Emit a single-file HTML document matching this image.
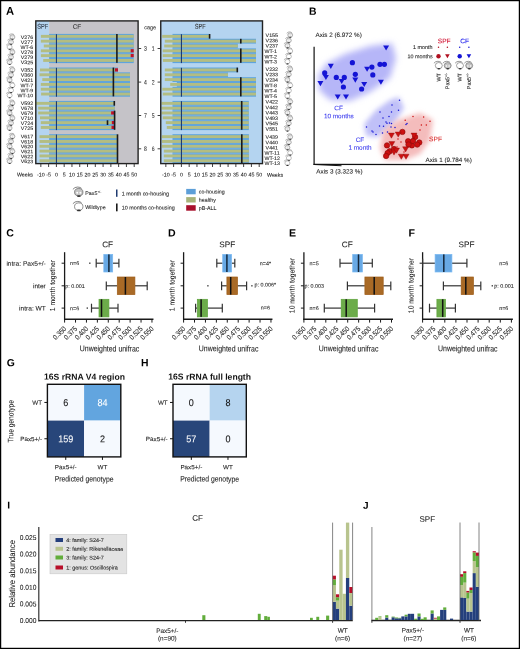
<!DOCTYPE html>
<html><head><meta charset="utf-8"><style>
html,body{margin:0;padding:0;background:#fff;}
svg{display:block;will-change:transform;}
text{font-family:"Liberation Sans", sans-serif;text-rendering:geometricPrecision;}
</style></head><body>
<svg width="520" height="649" viewBox="0 0 520 649" font-family='"Liberation Sans", sans-serif'>
<rect x="0" y="0" width="520" height="649" fill="#fff"/>
<text transform="translate(6.00,14.81) rotate(0.1)" font-size="11.2" text-anchor="start" fill="#000" font-weight="bold" >A</text>
<rect x="35.80" y="20.90" width="13.30" height="142.70" fill="#b4d4f0" />
<rect x="49.10" y="20.90" width="89.00" height="142.70" fill="#c5c3c8" />
<rect x="49.10" y="33.90" width="84.60" height="4.86" fill="#5ea4de" />
<rect x="49.10" y="38.76" width="84.60" height="4.82" fill="#5ea4de" />
<rect x="49.10" y="43.58" width="84.60" height="4.82" fill="#5ea4de" />
<rect x="49.10" y="48.40" width="84.60" height="4.82" fill="#5ea4de" />
<rect x="49.10" y="53.22" width="84.60" height="4.82" fill="#5ea4de" />
<rect x="49.10" y="58.04" width="84.60" height="5.06" fill="#5ea4de" />
<rect x="40.90" y="34.90" width="92.80" height="2.90" fill="#b3bd82" />
<rect x="40.90" y="39.72" width="92.80" height="2.90" fill="#b3bd82" />
<rect x="43.80" y="44.54" width="89.90" height="2.90" fill="#b3bd82" />
<rect x="40.90" y="49.36" width="92.80" height="2.90" fill="#b3bd82" />
<rect x="40.90" y="54.18" width="92.80" height="2.90" fill="#b3bd82" />
<rect x="43.20" y="59.00" width="90.50" height="2.90" fill="#b3bd82" />
<rect x="55.90" y="34.20" width="1.10" height="28.90" fill="#1f3b70" />
<rect x="130.70" y="49.16" width="3.00" height="3.20" fill="#c0102c" />
<rect x="130.70" y="53.98" width="3.00" height="3.20" fill="#c0102c" />
<rect x="116.10" y="34.00" width="1.60" height="28.80" fill="#1a1a1a" />
<rect x="49.10" y="67.50" width="68.90" height="4.86" fill="#5ea4de" />
<rect x="49.10" y="72.36" width="80.90" height="4.82" fill="#5ea4de" />
<rect x="49.10" y="77.18" width="80.90" height="4.82" fill="#5ea4de" />
<rect x="49.10" y="82.00" width="80.90" height="4.82" fill="#5ea4de" />
<rect x="49.10" y="86.82" width="80.90" height="4.82" fill="#5ea4de" />
<rect x="49.10" y="91.64" width="80.90" height="5.06" fill="#5ea4de" />
<rect x="40.00" y="68.50" width="78.00" height="2.90" fill="#b3bd82" />
<rect x="39.50" y="73.32" width="90.50" height="2.90" fill="#b3bd82" />
<rect x="42.30" y="78.14" width="87.70" height="2.90" fill="#b3bd82" />
<rect x="40.80" y="82.96" width="89.20" height="2.90" fill="#b3bd82" />
<rect x="40.80" y="87.78" width="89.20" height="2.90" fill="#b3bd82" />
<rect x="41.10" y="92.60" width="88.90" height="2.90" fill="#b3bd82" />
<rect x="55.90" y="67.80" width="1.10" height="28.90" fill="#1f3b70" />
<rect x="115.00" y="68.30" width="3.00" height="3.20" fill="#c0102c" />
<rect x="112.60" y="67.60" width="1.60" height="28.80" fill="#1a1a1a" />
<rect x="49.10" y="100.90" width="65.70" height="4.86" fill="#5ea4de" />
<rect x="49.10" y="105.76" width="65.70" height="4.82" fill="#5ea4de" />
<rect x="49.10" y="110.58" width="65.70" height="4.82" fill="#5ea4de" />
<rect x="49.10" y="115.40" width="65.70" height="4.82" fill="#5ea4de" />
<rect x="49.10" y="120.22" width="65.70" height="4.82" fill="#5ea4de" />
<rect x="49.10" y="125.04" width="65.70" height="5.06" fill="#5ea4de" />
<rect x="36.20" y="101.90" width="78.60" height="2.90" fill="#b3bd82" />
<rect x="38.20" y="106.72" width="76.60" height="2.90" fill="#b3bd82" />
<rect x="38.20" y="111.54" width="76.60" height="2.90" fill="#b3bd82" />
<rect x="40.00" y="116.36" width="74.80" height="2.90" fill="#b3bd82" />
<rect x="40.80" y="121.18" width="74.00" height="2.90" fill="#b3bd82" />
<rect x="40.80" y="126.00" width="74.00" height="2.90" fill="#b3bd82" />
<rect x="55.90" y="101.20" width="1.10" height="28.90" fill="#1f3b70" />
<rect x="113.50" y="101.00" width="1.60" height="4.70" fill="#1a1a1a" />
<rect x="111.10" y="111.34" width="3.00" height="3.20" fill="#c0102c" />
<rect x="111.80" y="120.98" width="3.00" height="3.20" fill="#c0102c" />
<rect x="106.70" y="120.28" width="1.60" height="4.70" fill="#1a1a1a" />
<rect x="111.50" y="125.80" width="3.00" height="3.20" fill="#c0102c" />
<rect x="113.80" y="110.64" width="1.60" height="19.16" fill="#1a1a1a" />
<rect x="49.10" y="134.20" width="67.90" height="4.86" fill="#5ea4de" />
<rect x="49.10" y="139.06" width="67.90" height="4.82" fill="#5ea4de" />
<rect x="49.10" y="143.88" width="67.90" height="4.82" fill="#5ea4de" />
<rect x="49.10" y="148.70" width="67.90" height="4.82" fill="#5ea4de" />
<rect x="49.10" y="153.52" width="67.90" height="4.82" fill="#5ea4de" />
<rect x="49.10" y="158.34" width="67.90" height="5.06" fill="#5ea4de" />
<rect x="39.50" y="135.20" width="77.50" height="2.90" fill="#b3bd82" />
<rect x="39.50" y="140.02" width="77.50" height="2.90" fill="#b3bd82" />
<rect x="39.50" y="144.84" width="77.50" height="2.90" fill="#b3bd82" />
<rect x="39.50" y="149.66" width="77.50" height="2.90" fill="#b3bd82" />
<rect x="39.50" y="154.48" width="77.50" height="2.90" fill="#b3bd82" />
<rect x="39.50" y="159.30" width="77.50" height="2.90" fill="#b3bd82" />
<rect x="55.90" y="134.50" width="1.10" height="28.90" fill="#1f3b70" />
<rect x="116.70" y="134.30" width="1.60" height="28.80" fill="#1a1a1a" />
<rect x="35.80" y="20.90" width="102.30" height="142.70" fill="none" stroke="#222" stroke-width="1.4"/>
<rect x="160.75" y="20.90" width="101.75" height="142.70" fill="#b4d4f0" />
<rect x="172.50" y="33.90" width="36.60" height="4.86" fill="#5ea4de" />
<rect x="172.50" y="38.76" width="83.50" height="4.82" fill="#5ea4de" />
<rect x="172.50" y="43.58" width="65.30" height="4.82" fill="#5ea4de" />
<rect x="172.50" y="48.40" width="83.50" height="4.82" fill="#5ea4de" />
<rect x="172.50" y="53.22" width="83.50" height="4.82" fill="#5ea4de" />
<rect x="172.50" y="58.04" width="83.50" height="5.06" fill="#5ea4de" />
<rect x="162.20" y="34.90" width="46.90" height="2.90" fill="#b3bd82" />
<rect x="164.80" y="39.72" width="91.20" height="2.90" fill="#b3bd82" />
<rect x="164.20" y="44.54" width="73.60" height="2.90" fill="#b3bd82" />
<rect x="162.70" y="49.36" width="93.30" height="2.90" fill="#b3bd82" />
<rect x="162.70" y="54.18" width="93.30" height="2.90" fill="#b3bd82" />
<rect x="162.90" y="59.00" width="93.10" height="2.90" fill="#b3bd82" />
<rect x="180.90" y="34.20" width="1.10" height="28.90" fill="#1f3b70" />
<rect x="208.80" y="34.00" width="1.60" height="4.70" fill="#1a1a1a" />
<rect x="240.00" y="38.82" width="1.60" height="4.70" fill="#1a1a1a" />
<rect x="240.00" y="48.46" width="1.60" height="14.34" fill="#1a1a1a" />
<rect x="172.50" y="67.50" width="65.30" height="4.86" fill="#5ea4de" />
<rect x="172.50" y="72.36" width="55.50" height="4.82" fill="#5ea4de" />
<rect x="172.50" y="77.18" width="83.50" height="4.82" fill="#5ea4de" />
<rect x="176.80" y="82.00" width="79.20" height="4.82" fill="#5ea4de" />
<rect x="172.50" y="86.82" width="83.50" height="4.82" fill="#5ea4de" />
<rect x="172.50" y="91.64" width="83.50" height="5.06" fill="#5ea4de" />
<rect x="164.80" y="68.50" width="73.00" height="2.90" fill="#b3bd82" />
<rect x="164.80" y="73.32" width="63.20" height="2.90" fill="#b3bd82" />
<rect x="164.80" y="78.14" width="91.20" height="2.90" fill="#b3bd82" />
<rect x="170.20" y="82.96" width="85.80" height="2.90" fill="#b3bd82" />
<rect x="162.30" y="87.78" width="93.70" height="2.90" fill="#b3bd82" />
<rect x="162.80" y="92.60" width="93.20" height="2.90" fill="#b3bd82" />
<rect x="180.90" y="67.80" width="1.10" height="28.90" fill="#1f3b70" />
<rect x="236.50" y="67.60" width="1.60" height="4.70" fill="#1a1a1a" />
<rect x="240.00" y="77.24" width="1.60" height="19.16" fill="#1a1a1a" />
<rect x="172.50" y="100.90" width="76.30" height="4.86" fill="#5ea4de" />
<rect x="172.50" y="105.76" width="76.30" height="4.82" fill="#5ea4de" />
<rect x="172.50" y="110.58" width="76.30" height="4.82" fill="#5ea4de" />
<rect x="172.50" y="115.40" width="76.30" height="4.82" fill="#5ea4de" />
<rect x="172.50" y="120.22" width="76.30" height="4.82" fill="#5ea4de" />
<rect x="172.50" y="125.04" width="76.30" height="5.06" fill="#5ea4de" />
<rect x="161.50" y="101.90" width="87.30" height="2.90" fill="#b3bd82" />
<rect x="161.50" y="106.72" width="87.30" height="2.90" fill="#b3bd82" />
<rect x="161.50" y="111.54" width="87.30" height="2.90" fill="#b3bd82" />
<rect x="162.70" y="116.36" width="86.10" height="2.90" fill="#b3bd82" />
<rect x="165.80" y="121.18" width="83.00" height="2.90" fill="#b3bd82" />
<rect x="166.80" y="126.00" width="82.00" height="2.90" fill="#b3bd82" />
<rect x="180.90" y="101.20" width="1.10" height="28.90" fill="#1f3b70" />
<rect x="240.90" y="101.00" width="1.60" height="28.80" fill="#1a1a1a" />
<rect x="172.50" y="134.20" width="76.40" height="4.86" fill="#5ea4de" />
<rect x="172.50" y="139.06" width="76.40" height="4.82" fill="#5ea4de" />
<rect x="172.50" y="143.88" width="76.40" height="4.82" fill="#5ea4de" />
<rect x="172.50" y="148.70" width="76.40" height="4.82" fill="#5ea4de" />
<rect x="172.50" y="153.52" width="76.40" height="4.82" fill="#5ea4de" />
<rect x="172.50" y="158.34" width="76.40" height="5.06" fill="#5ea4de" />
<rect x="161.90" y="135.20" width="87.00" height="2.90" fill="#b3bd82" />
<rect x="161.90" y="140.02" width="87.00" height="2.90" fill="#b3bd82" />
<rect x="161.90" y="144.84" width="87.00" height="2.90" fill="#b3bd82" />
<rect x="163.80" y="149.66" width="85.10" height="2.90" fill="#b3bd82" />
<rect x="163.80" y="154.48" width="85.10" height="2.90" fill="#b3bd82" />
<rect x="163.80" y="159.30" width="85.10" height="2.90" fill="#b3bd82" />
<rect x="180.90" y="134.50" width="1.10" height="28.90" fill="#1f3b70" />
<rect x="241.00" y="134.30" width="1.60" height="28.80" fill="#1a1a1a" />
<rect x="160.75" y="20.90" width="101.75" height="142.70" fill="none" stroke="#222" stroke-width="1.4"/>
<text transform="translate(42.80,28.81) rotate(0.1) scale(0.8,1)" font-size="7.0" text-anchor="middle" fill="#2b3442" font-weight="normal" stroke="#2b3442" stroke-width="0.08" >SPF</text>
<text transform="translate(77.00,28.66) rotate(0.1)" font-size="6.3" text-anchor="middle" fill="#333" font-weight="normal" stroke="#333" stroke-width="0.08" >CF</text>
<text transform="translate(200.30,28.81) rotate(0.1) scale(0.8,1)" font-size="7.0" text-anchor="middle" fill="#333" font-weight="normal" stroke="#333" stroke-width="0.08" >SPF</text>
<text transform="translate(33.10,38.94) rotate(0.1) scale(1.06,1)" font-size="5.0" text-anchor="end" fill="#222" font-weight="normal" stroke="#222" stroke-width="0.08" >V276</text>
<text transform="translate(265.60,36.94) rotate(0.1) scale(1.06,1)" font-size="5.0" text-anchor="start" fill="#222" font-weight="normal" stroke="#222" stroke-width="0.08" >V155</text>
<g transform="translate(12.20,37.00) scale(0.72)"><path d="M-4.6 -2.4 Q-3.0 -4.4 -0.6 -4.3 Q1.6 -4.2 2.6 -3.2" fill="none" stroke="#555" stroke-width="0.6"/><ellipse cx="0.3" cy="0.0" rx="3.5" ry="3.1" fill="#e2e2e2" stroke="#666" stroke-width="0.6"/><circle cx="-1.0" cy="0.4" r="0.8" fill="#fff"/><circle cx="1.7" cy="0.4" r="0.8" fill="#fff"/><ellipse cx="0.4" cy="3.2" rx="1.6" ry="0.75" fill="#333"/></g>
<g transform="translate(290.00,35.00) scale(0.72)"><path d="M-4.6 -2.4 Q-3.0 -4.4 -0.6 -4.3 Q1.6 -4.2 2.6 -3.2" fill="none" stroke="#555" stroke-width="0.6"/><ellipse cx="0.3" cy="0.0" rx="3.5" ry="3.1" fill="#e2e2e2" stroke="#666" stroke-width="0.6"/><circle cx="-1.0" cy="0.4" r="0.8" fill="#fff"/><circle cx="1.7" cy="0.4" r="0.8" fill="#fff"/><ellipse cx="0.4" cy="3.2" rx="1.6" ry="0.75" fill="#333"/></g>
<text transform="translate(33.10,43.94) rotate(0.1) scale(1.06,1)" font-size="5.0" text-anchor="end" fill="#222" font-weight="normal" stroke="#222" stroke-width="0.08" >V277</text>
<text transform="translate(265.60,42.34) rotate(0.1) scale(1.06,1)" font-size="5.0" text-anchor="start" fill="#222" font-weight="normal" stroke="#222" stroke-width="0.08" >V236</text>
<g transform="translate(10.80,42.00) scale(0.72)"><path d="M-4.6 -2.4 Q-3.0 -4.4 -0.6 -4.3 Q1.6 -4.2 2.6 -3.2" fill="none" stroke="#555" stroke-width="0.6"/><ellipse cx="0.3" cy="0.0" rx="3.5" ry="3.1" fill="#e2e2e2" stroke="#666" stroke-width="0.6"/><circle cx="-1.0" cy="0.4" r="0.8" fill="#fff"/><circle cx="1.7" cy="0.4" r="0.8" fill="#fff"/><ellipse cx="0.4" cy="3.2" rx="1.6" ry="0.75" fill="#333"/></g>
<g transform="translate(288.60,40.40) scale(0.72)"><path d="M-4.6 -2.4 Q-3.0 -4.4 -0.6 -4.3 Q1.6 -4.2 2.6 -3.2" fill="none" stroke="#555" stroke-width="0.6"/><ellipse cx="0.3" cy="0.0" rx="3.5" ry="3.1" fill="#e2e2e2" stroke="#666" stroke-width="0.6"/><circle cx="-1.0" cy="0.4" r="0.8" fill="#fff"/><circle cx="1.7" cy="0.4" r="0.8" fill="#fff"/><ellipse cx="0.4" cy="3.2" rx="1.6" ry="0.75" fill="#333"/></g>
<text transform="translate(33.10,48.94) rotate(0.1) scale(1.06,1)" font-size="5.0" text-anchor="end" fill="#222" font-weight="normal" stroke="#222" stroke-width="0.08" >WT-6</text>
<text transform="translate(265.60,47.54) rotate(0.1) scale(1.06,1)" font-size="5.0" text-anchor="start" fill="#222" font-weight="normal" stroke="#222" stroke-width="0.08" >V237</text>
<g transform="translate(9.40,47.00) scale(0.72)"><path d="M-4.6 -2.4 Q-3.0 -4.4 -0.6 -4.3 Q1.6 -4.2 2.6 -3.2" fill="none" stroke="#555" stroke-width="0.6"/><ellipse cx="0.3" cy="0.0" rx="3.5" ry="3.1" fill="#ffffff" stroke="#666" stroke-width="0.6"/><circle cx="-1.0" cy="0.4" r="0.8" fill="#fff"/><circle cx="1.7" cy="0.4" r="0.8" fill="#fff"/><ellipse cx="0.4" cy="3.2" rx="1.6" ry="0.75" fill="#333"/></g>
<g transform="translate(287.20,45.60) scale(0.72)"><path d="M-4.6 -2.4 Q-3.0 -4.4 -0.6 -4.3 Q1.6 -4.2 2.6 -3.2" fill="none" stroke="#555" stroke-width="0.6"/><ellipse cx="0.3" cy="0.0" rx="3.5" ry="3.1" fill="#e2e2e2" stroke="#666" stroke-width="0.6"/><circle cx="-1.0" cy="0.4" r="0.8" fill="#fff"/><circle cx="1.7" cy="0.4" r="0.8" fill="#fff"/><ellipse cx="0.4" cy="3.2" rx="1.6" ry="0.75" fill="#333"/></g>
<text transform="translate(33.10,53.94) rotate(0.1) scale(1.06,1)" font-size="5.0" text-anchor="end" fill="#222" font-weight="normal" stroke="#222" stroke-width="0.08" >V278</text>
<text transform="translate(264.40,52.94) rotate(0.1) scale(1.06,1)" font-size="5.0" text-anchor="start" fill="#222" font-weight="normal" stroke="#222" stroke-width="0.08" >WT-1</text>
<g transform="translate(12.20,52.00) scale(0.72)"><path d="M-4.6 -2.4 Q-3.0 -4.4 -0.6 -4.3 Q1.6 -4.2 2.6 -3.2" fill="none" stroke="#555" stroke-width="0.6"/><ellipse cx="0.3" cy="0.0" rx="3.5" ry="3.1" fill="#e2e2e2" stroke="#666" stroke-width="0.6"/><circle cx="-1.0" cy="0.4" r="0.8" fill="#fff"/><circle cx="1.7" cy="0.4" r="0.8" fill="#fff"/><ellipse cx="0.4" cy="3.2" rx="1.6" ry="0.75" fill="#333"/></g>
<g transform="translate(290.00,51.00) scale(0.72)"><path d="M-4.6 -2.4 Q-3.0 -4.4 -0.6 -4.3 Q1.6 -4.2 2.6 -3.2" fill="none" stroke="#555" stroke-width="0.6"/><ellipse cx="0.3" cy="0.0" rx="3.5" ry="3.1" fill="#ffffff" stroke="#666" stroke-width="0.6"/><circle cx="-1.0" cy="0.4" r="0.8" fill="#fff"/><circle cx="1.7" cy="0.4" r="0.8" fill="#fff"/><ellipse cx="0.4" cy="3.2" rx="1.6" ry="0.75" fill="#333"/></g>
<text transform="translate(33.10,58.94) rotate(0.1) scale(1.06,1)" font-size="5.0" text-anchor="end" fill="#222" font-weight="normal" stroke="#222" stroke-width="0.08" >V279</text>
<text transform="translate(264.40,58.44) rotate(0.1) scale(1.06,1)" font-size="5.0" text-anchor="start" fill="#222" font-weight="normal" stroke="#222" stroke-width="0.08" >WT-2</text>
<g transform="translate(10.80,57.00) scale(0.72)"><path d="M-4.6 -2.4 Q-3.0 -4.4 -0.6 -4.3 Q1.6 -4.2 2.6 -3.2" fill="none" stroke="#555" stroke-width="0.6"/><ellipse cx="0.3" cy="0.0" rx="3.5" ry="3.1" fill="#e2e2e2" stroke="#666" stroke-width="0.6"/><circle cx="-1.0" cy="0.4" r="0.8" fill="#fff"/><circle cx="1.7" cy="0.4" r="0.8" fill="#fff"/><ellipse cx="0.4" cy="3.2" rx="1.6" ry="0.75" fill="#333"/></g>
<g transform="translate(288.60,56.50) scale(0.72)"><path d="M-4.6 -2.4 Q-3.0 -4.4 -0.6 -4.3 Q1.6 -4.2 2.6 -3.2" fill="none" stroke="#555" stroke-width="0.6"/><ellipse cx="0.3" cy="0.0" rx="3.5" ry="3.1" fill="#ffffff" stroke="#666" stroke-width="0.6"/><circle cx="-1.0" cy="0.4" r="0.8" fill="#fff"/><circle cx="1.7" cy="0.4" r="0.8" fill="#fff"/><ellipse cx="0.4" cy="3.2" rx="1.6" ry="0.75" fill="#333"/></g>
<text transform="translate(33.10,64.14) rotate(0.1) scale(1.06,1)" font-size="5.0" text-anchor="end" fill="#222" font-weight="normal" stroke="#222" stroke-width="0.08" >V325</text>
<text transform="translate(264.40,63.54) rotate(0.1) scale(1.06,1)" font-size="5.0" text-anchor="start" fill="#222" font-weight="normal" stroke="#222" stroke-width="0.08" >WT-3</text>
<g transform="translate(9.40,62.20) scale(0.72)"><path d="M-4.6 -2.4 Q-3.0 -4.4 -0.6 -4.3 Q1.6 -4.2 2.6 -3.2" fill="none" stroke="#555" stroke-width="0.6"/><ellipse cx="0.3" cy="0.0" rx="3.5" ry="3.1" fill="#e2e2e2" stroke="#666" stroke-width="0.6"/><circle cx="-1.0" cy="0.4" r="0.8" fill="#fff"/><circle cx="1.7" cy="0.4" r="0.8" fill="#fff"/><ellipse cx="0.4" cy="3.2" rx="1.6" ry="0.75" fill="#333"/></g>
<g transform="translate(287.20,61.60) scale(0.72)"><path d="M-4.6 -2.4 Q-3.0 -4.4 -0.6 -4.3 Q1.6 -4.2 2.6 -3.2" fill="none" stroke="#555" stroke-width="0.6"/><ellipse cx="0.3" cy="0.0" rx="3.5" ry="3.1" fill="#ffffff" stroke="#666" stroke-width="0.6"/><circle cx="-1.0" cy="0.4" r="0.8" fill="#fff"/><circle cx="1.7" cy="0.4" r="0.8" fill="#fff"/><ellipse cx="0.4" cy="3.2" rx="1.6" ry="0.75" fill="#333"/></g>
<text transform="translate(33.10,71.74) rotate(0.1) scale(1.06,1)" font-size="5.0" text-anchor="end" fill="#222" font-weight="normal" stroke="#222" stroke-width="0.08" >V352</text>
<text transform="translate(265.60,70.94) rotate(0.1) scale(1.06,1)" font-size="5.0" text-anchor="start" fill="#222" font-weight="normal" stroke="#222" stroke-width="0.08" >V232</text>
<g transform="translate(12.20,69.80) scale(0.72)"><path d="M-4.6 -2.4 Q-3.0 -4.4 -0.6 -4.3 Q1.6 -4.2 2.6 -3.2" fill="none" stroke="#555" stroke-width="0.6"/><ellipse cx="0.3" cy="0.0" rx="3.5" ry="3.1" fill="#e2e2e2" stroke="#666" stroke-width="0.6"/><circle cx="-1.0" cy="0.4" r="0.8" fill="#fff"/><circle cx="1.7" cy="0.4" r="0.8" fill="#fff"/><ellipse cx="0.4" cy="3.2" rx="1.6" ry="0.75" fill="#333"/></g>
<g transform="translate(290.00,69.00) scale(0.72)"><path d="M-4.6 -2.4 Q-3.0 -4.4 -0.6 -4.3 Q1.6 -4.2 2.6 -3.2" fill="none" stroke="#555" stroke-width="0.6"/><ellipse cx="0.3" cy="0.0" rx="3.5" ry="3.1" fill="#e2e2e2" stroke="#666" stroke-width="0.6"/><circle cx="-1.0" cy="0.4" r="0.8" fill="#fff"/><circle cx="1.7" cy="0.4" r="0.8" fill="#fff"/><ellipse cx="0.4" cy="3.2" rx="1.6" ry="0.75" fill="#333"/></g>
<text transform="translate(33.10,76.84) rotate(0.1) scale(1.06,1)" font-size="5.0" text-anchor="end" fill="#222" font-weight="normal" stroke="#222" stroke-width="0.08" >V360</text>
<text transform="translate(265.60,76.34) rotate(0.1) scale(1.06,1)" font-size="5.0" text-anchor="start" fill="#222" font-weight="normal" stroke="#222" stroke-width="0.08" >V233</text>
<g transform="translate(10.80,74.90) scale(0.72)"><path d="M-4.6 -2.4 Q-3.0 -4.4 -0.6 -4.3 Q1.6 -4.2 2.6 -3.2" fill="none" stroke="#555" stroke-width="0.6"/><ellipse cx="0.3" cy="0.0" rx="3.5" ry="3.1" fill="#e2e2e2" stroke="#666" stroke-width="0.6"/><circle cx="-1.0" cy="0.4" r="0.8" fill="#fff"/><circle cx="1.7" cy="0.4" r="0.8" fill="#fff"/><ellipse cx="0.4" cy="3.2" rx="1.6" ry="0.75" fill="#333"/></g>
<g transform="translate(288.60,74.40) scale(0.72)"><path d="M-4.6 -2.4 Q-3.0 -4.4 -0.6 -4.3 Q1.6 -4.2 2.6 -3.2" fill="none" stroke="#555" stroke-width="0.6"/><ellipse cx="0.3" cy="0.0" rx="3.5" ry="3.1" fill="#e2e2e2" stroke="#666" stroke-width="0.6"/><circle cx="-1.0" cy="0.4" r="0.8" fill="#fff"/><circle cx="1.7" cy="0.4" r="0.8" fill="#fff"/><ellipse cx="0.4" cy="3.2" rx="1.6" ry="0.75" fill="#333"/></g>
<text transform="translate(33.10,81.94) rotate(0.1) scale(1.06,1)" font-size="5.0" text-anchor="end" fill="#222" font-weight="normal" stroke="#222" stroke-width="0.08" >V421</text>
<text transform="translate(265.60,81.74) rotate(0.1) scale(1.06,1)" font-size="5.0" text-anchor="start" fill="#222" font-weight="normal" stroke="#222" stroke-width="0.08" >V234</text>
<g transform="translate(9.40,80.00) scale(0.72)"><path d="M-4.6 -2.4 Q-3.0 -4.4 -0.6 -4.3 Q1.6 -4.2 2.6 -3.2" fill="none" stroke="#555" stroke-width="0.6"/><ellipse cx="0.3" cy="0.0" rx="3.5" ry="3.1" fill="#e2e2e2" stroke="#666" stroke-width="0.6"/><circle cx="-1.0" cy="0.4" r="0.8" fill="#fff"/><circle cx="1.7" cy="0.4" r="0.8" fill="#fff"/><ellipse cx="0.4" cy="3.2" rx="1.6" ry="0.75" fill="#333"/></g>
<g transform="translate(287.20,79.80) scale(0.72)"><path d="M-4.6 -2.4 Q-3.0 -4.4 -0.6 -4.3 Q1.6 -4.2 2.6 -3.2" fill="none" stroke="#555" stroke-width="0.6"/><ellipse cx="0.3" cy="0.0" rx="3.5" ry="3.1" fill="#e2e2e2" stroke="#666" stroke-width="0.6"/><circle cx="-1.0" cy="0.4" r="0.8" fill="#fff"/><circle cx="1.7" cy="0.4" r="0.8" fill="#fff"/><ellipse cx="0.4" cy="3.2" rx="1.6" ry="0.75" fill="#333"/></g>
<text transform="translate(33.10,87.24) rotate(0.1) scale(1.06,1)" font-size="5.0" text-anchor="end" fill="#222" font-weight="normal" stroke="#222" stroke-width="0.08" >WT-7</text>
<text transform="translate(264.40,87.24) rotate(0.1) scale(1.06,1)" font-size="5.0" text-anchor="start" fill="#222" font-weight="normal" stroke="#222" stroke-width="0.08" >WT-8</text>
<g transform="translate(12.20,85.30) scale(0.72)"><path d="M-4.6 -2.4 Q-3.0 -4.4 -0.6 -4.3 Q1.6 -4.2 2.6 -3.2" fill="none" stroke="#555" stroke-width="0.6"/><ellipse cx="0.3" cy="0.0" rx="3.5" ry="3.1" fill="#ffffff" stroke="#666" stroke-width="0.6"/><circle cx="-1.0" cy="0.4" r="0.8" fill="#fff"/><circle cx="1.7" cy="0.4" r="0.8" fill="#fff"/><ellipse cx="0.4" cy="3.2" rx="1.6" ry="0.75" fill="#333"/></g>
<g transform="translate(290.00,85.30) scale(0.72)"><path d="M-4.6 -2.4 Q-3.0 -4.4 -0.6 -4.3 Q1.6 -4.2 2.6 -3.2" fill="none" stroke="#555" stroke-width="0.6"/><ellipse cx="0.3" cy="0.0" rx="3.5" ry="3.1" fill="#ffffff" stroke="#666" stroke-width="0.6"/><circle cx="-1.0" cy="0.4" r="0.8" fill="#fff"/><circle cx="1.7" cy="0.4" r="0.8" fill="#fff"/><ellipse cx="0.4" cy="3.2" rx="1.6" ry="0.75" fill="#333"/></g>
<text transform="translate(33.10,92.24) rotate(0.1) scale(1.06,1)" font-size="5.0" text-anchor="end" fill="#222" font-weight="normal" stroke="#222" stroke-width="0.08" >WT-9</text>
<text transform="translate(264.40,92.54) rotate(0.1) scale(1.06,1)" font-size="5.0" text-anchor="start" fill="#222" font-weight="normal" stroke="#222" stroke-width="0.08" >WT-4</text>
<g transform="translate(10.80,90.30) scale(0.72)"><path d="M-4.6 -2.4 Q-3.0 -4.4 -0.6 -4.3 Q1.6 -4.2 2.6 -3.2" fill="none" stroke="#555" stroke-width="0.6"/><ellipse cx="0.3" cy="0.0" rx="3.5" ry="3.1" fill="#ffffff" stroke="#666" stroke-width="0.6"/><circle cx="-1.0" cy="0.4" r="0.8" fill="#fff"/><circle cx="1.7" cy="0.4" r="0.8" fill="#fff"/><ellipse cx="0.4" cy="3.2" rx="1.6" ry="0.75" fill="#333"/></g>
<g transform="translate(288.60,90.60) scale(0.72)"><path d="M-4.6 -2.4 Q-3.0 -4.4 -0.6 -4.3 Q1.6 -4.2 2.6 -3.2" fill="none" stroke="#555" stroke-width="0.6"/><ellipse cx="0.3" cy="0.0" rx="3.5" ry="3.1" fill="#ffffff" stroke="#666" stroke-width="0.6"/><circle cx="-1.0" cy="0.4" r="0.8" fill="#fff"/><circle cx="1.7" cy="0.4" r="0.8" fill="#fff"/><ellipse cx="0.4" cy="3.2" rx="1.6" ry="0.75" fill="#333"/></g>
<text transform="translate(33.10,97.34) rotate(0.1) scale(1.06,1)" font-size="5.0" text-anchor="end" fill="#222" font-weight="normal" stroke="#222" stroke-width="0.08" >WT-10</text>
<text transform="translate(264.40,97.94) rotate(0.1) scale(1.06,1)" font-size="5.0" text-anchor="start" fill="#222" font-weight="normal" stroke="#222" stroke-width="0.08" >WT-5</text>
<g transform="translate(9.40,95.40) scale(0.72)"><path d="M-4.6 -2.4 Q-3.0 -4.4 -0.6 -4.3 Q1.6 -4.2 2.6 -3.2" fill="none" stroke="#555" stroke-width="0.6"/><ellipse cx="0.3" cy="0.0" rx="3.5" ry="3.1" fill="#ffffff" stroke="#666" stroke-width="0.6"/><circle cx="-1.0" cy="0.4" r="0.8" fill="#fff"/><circle cx="1.7" cy="0.4" r="0.8" fill="#fff"/><ellipse cx="0.4" cy="3.2" rx="1.6" ry="0.75" fill="#333"/></g>
<g transform="translate(287.20,96.00) scale(0.72)"><path d="M-4.6 -2.4 Q-3.0 -4.4 -0.6 -4.3 Q1.6 -4.2 2.6 -3.2" fill="none" stroke="#555" stroke-width="0.6"/><ellipse cx="0.3" cy="0.0" rx="3.5" ry="3.1" fill="#ffffff" stroke="#666" stroke-width="0.6"/><circle cx="-1.0" cy="0.4" r="0.8" fill="#fff"/><circle cx="1.7" cy="0.4" r="0.8" fill="#fff"/><ellipse cx="0.4" cy="3.2" rx="1.6" ry="0.75" fill="#333"/></g>
<text transform="translate(33.10,105.04) rotate(0.1) scale(1.06,1)" font-size="5.0" text-anchor="end" fill="#222" font-weight="normal" stroke="#222" stroke-width="0.08" >V592</text>
<text transform="translate(265.60,103.54) rotate(0.1) scale(1.06,1)" font-size="5.0" text-anchor="start" fill="#222" font-weight="normal" stroke="#222" stroke-width="0.08" >V422</text>
<g transform="translate(12.20,103.10) scale(0.72)"><path d="M-4.6 -2.4 Q-3.0 -4.4 -0.6 -4.3 Q1.6 -4.2 2.6 -3.2" fill="none" stroke="#555" stroke-width="0.6"/><ellipse cx="0.3" cy="0.0" rx="3.5" ry="3.1" fill="#e2e2e2" stroke="#666" stroke-width="0.6"/><circle cx="-1.0" cy="0.4" r="0.8" fill="#fff"/><circle cx="1.7" cy="0.4" r="0.8" fill="#fff"/><ellipse cx="0.4" cy="3.2" rx="1.6" ry="0.75" fill="#333"/></g>
<g transform="translate(290.00,101.60) scale(0.72)"><path d="M-4.6 -2.4 Q-3.0 -4.4 -0.6 -4.3 Q1.6 -4.2 2.6 -3.2" fill="none" stroke="#555" stroke-width="0.6"/><ellipse cx="0.3" cy="0.0" rx="3.5" ry="3.1" fill="#e2e2e2" stroke="#666" stroke-width="0.6"/><circle cx="-1.0" cy="0.4" r="0.8" fill="#fff"/><circle cx="1.7" cy="0.4" r="0.8" fill="#fff"/><ellipse cx="0.4" cy="3.2" rx="1.6" ry="0.75" fill="#333"/></g>
<text transform="translate(33.10,109.94) rotate(0.1) scale(1.06,1)" font-size="5.0" text-anchor="end" fill="#222" font-weight="normal" stroke="#222" stroke-width="0.08" >V678</text>
<text transform="translate(265.60,109.14) rotate(0.1) scale(1.06,1)" font-size="5.0" text-anchor="start" fill="#222" font-weight="normal" stroke="#222" stroke-width="0.08" >V442</text>
<g transform="translate(10.80,108.00) scale(0.72)"><path d="M-4.6 -2.4 Q-3.0 -4.4 -0.6 -4.3 Q1.6 -4.2 2.6 -3.2" fill="none" stroke="#555" stroke-width="0.6"/><ellipse cx="0.3" cy="0.0" rx="3.5" ry="3.1" fill="#e2e2e2" stroke="#666" stroke-width="0.6"/><circle cx="-1.0" cy="0.4" r="0.8" fill="#fff"/><circle cx="1.7" cy="0.4" r="0.8" fill="#fff"/><ellipse cx="0.4" cy="3.2" rx="1.6" ry="0.75" fill="#333"/></g>
<g transform="translate(288.60,107.20) scale(0.72)"><path d="M-4.6 -2.4 Q-3.0 -4.4 -0.6 -4.3 Q1.6 -4.2 2.6 -3.2" fill="none" stroke="#555" stroke-width="0.6"/><ellipse cx="0.3" cy="0.0" rx="3.5" ry="3.1" fill="#e2e2e2" stroke="#666" stroke-width="0.6"/><circle cx="-1.0" cy="0.4" r="0.8" fill="#fff"/><circle cx="1.7" cy="0.4" r="0.8" fill="#fff"/><ellipse cx="0.4" cy="3.2" rx="1.6" ry="0.75" fill="#333"/></g>
<text transform="translate(33.10,114.94) rotate(0.1) scale(1.06,1)" font-size="5.0" text-anchor="end" fill="#222" font-weight="normal" stroke="#222" stroke-width="0.08" >V679</text>
<text transform="translate(265.60,114.54) rotate(0.1) scale(1.06,1)" font-size="5.0" text-anchor="start" fill="#222" font-weight="normal" stroke="#222" stroke-width="0.08" >V443</text>
<g transform="translate(9.40,113.00) scale(0.72)"><path d="M-4.6 -2.4 Q-3.0 -4.4 -0.6 -4.3 Q1.6 -4.2 2.6 -3.2" fill="none" stroke="#555" stroke-width="0.6"/><ellipse cx="0.3" cy="0.0" rx="3.5" ry="3.1" fill="#e2e2e2" stroke="#666" stroke-width="0.6"/><circle cx="-1.0" cy="0.4" r="0.8" fill="#fff"/><circle cx="1.7" cy="0.4" r="0.8" fill="#fff"/><ellipse cx="0.4" cy="3.2" rx="1.6" ry="0.75" fill="#333"/></g>
<g transform="translate(287.20,112.60) scale(0.72)"><path d="M-4.6 -2.4 Q-3.0 -4.4 -0.6 -4.3 Q1.6 -4.2 2.6 -3.2" fill="none" stroke="#555" stroke-width="0.6"/><ellipse cx="0.3" cy="0.0" rx="3.5" ry="3.1" fill="#e2e2e2" stroke="#666" stroke-width="0.6"/><circle cx="-1.0" cy="0.4" r="0.8" fill="#fff"/><circle cx="1.7" cy="0.4" r="0.8" fill="#fff"/><ellipse cx="0.4" cy="3.2" rx="1.6" ry="0.75" fill="#333"/></g>
<text transform="translate(33.10,119.94) rotate(0.1) scale(1.06,1)" font-size="5.0" text-anchor="end" fill="#222" font-weight="normal" stroke="#222" stroke-width="0.08" >V710</text>
<text transform="translate(265.60,120.04) rotate(0.1) scale(1.06,1)" font-size="5.0" text-anchor="start" fill="#222" font-weight="normal" stroke="#222" stroke-width="0.08" >V493</text>
<g transform="translate(12.20,118.00) scale(0.72)"><path d="M-4.6 -2.4 Q-3.0 -4.4 -0.6 -4.3 Q1.6 -4.2 2.6 -3.2" fill="none" stroke="#555" stroke-width="0.6"/><ellipse cx="0.3" cy="0.0" rx="3.5" ry="3.1" fill="#e2e2e2" stroke="#666" stroke-width="0.6"/><circle cx="-1.0" cy="0.4" r="0.8" fill="#fff"/><circle cx="1.7" cy="0.4" r="0.8" fill="#fff"/><ellipse cx="0.4" cy="3.2" rx="1.6" ry="0.75" fill="#333"/></g>
<g transform="translate(290.00,118.10) scale(0.72)"><path d="M-4.6 -2.4 Q-3.0 -4.4 -0.6 -4.3 Q1.6 -4.2 2.6 -3.2" fill="none" stroke="#555" stroke-width="0.6"/><ellipse cx="0.3" cy="0.0" rx="3.5" ry="3.1" fill="#e2e2e2" stroke="#666" stroke-width="0.6"/><circle cx="-1.0" cy="0.4" r="0.8" fill="#fff"/><circle cx="1.7" cy="0.4" r="0.8" fill="#fff"/><ellipse cx="0.4" cy="3.2" rx="1.6" ry="0.75" fill="#333"/></g>
<text transform="translate(33.10,124.94) rotate(0.1) scale(1.06,1)" font-size="5.0" text-anchor="end" fill="#222" font-weight="normal" stroke="#222" stroke-width="0.08" >V724</text>
<text transform="translate(265.60,125.24) rotate(0.1) scale(1.06,1)" font-size="5.0" text-anchor="start" fill="#222" font-weight="normal" stroke="#222" stroke-width="0.08" >V545</text>
<g transform="translate(10.80,123.00) scale(0.72)"><path d="M-4.6 -2.4 Q-3.0 -4.4 -0.6 -4.3 Q1.6 -4.2 2.6 -3.2" fill="none" stroke="#555" stroke-width="0.6"/><ellipse cx="0.3" cy="0.0" rx="3.5" ry="3.1" fill="#e2e2e2" stroke="#666" stroke-width="0.6"/><circle cx="-1.0" cy="0.4" r="0.8" fill="#fff"/><circle cx="1.7" cy="0.4" r="0.8" fill="#fff"/><ellipse cx="0.4" cy="3.2" rx="1.6" ry="0.75" fill="#333"/></g>
<g transform="translate(288.60,123.30) scale(0.72)"><path d="M-4.6 -2.4 Q-3.0 -4.4 -0.6 -4.3 Q1.6 -4.2 2.6 -3.2" fill="none" stroke="#555" stroke-width="0.6"/><ellipse cx="0.3" cy="0.0" rx="3.5" ry="3.1" fill="#e2e2e2" stroke="#666" stroke-width="0.6"/><circle cx="-1.0" cy="0.4" r="0.8" fill="#fff"/><circle cx="1.7" cy="0.4" r="0.8" fill="#fff"/><ellipse cx="0.4" cy="3.2" rx="1.6" ry="0.75" fill="#333"/></g>
<text transform="translate(33.10,129.94) rotate(0.1) scale(1.06,1)" font-size="5.0" text-anchor="end" fill="#222" font-weight="normal" stroke="#222" stroke-width="0.08" >V725</text>
<text transform="translate(265.60,130.74) rotate(0.1) scale(1.06,1)" font-size="5.0" text-anchor="start" fill="#222" font-weight="normal" stroke="#222" stroke-width="0.08" >V551</text>
<g transform="translate(9.40,128.00) scale(0.72)"><path d="M-4.6 -2.4 Q-3.0 -4.4 -0.6 -4.3 Q1.6 -4.2 2.6 -3.2" fill="none" stroke="#555" stroke-width="0.6"/><ellipse cx="0.3" cy="0.0" rx="3.5" ry="3.1" fill="#e2e2e2" stroke="#666" stroke-width="0.6"/><circle cx="-1.0" cy="0.4" r="0.8" fill="#fff"/><circle cx="1.7" cy="0.4" r="0.8" fill="#fff"/><ellipse cx="0.4" cy="3.2" rx="1.6" ry="0.75" fill="#333"/></g>
<g transform="translate(287.20,128.80) scale(0.72)"><path d="M-4.6 -2.4 Q-3.0 -4.4 -0.6 -4.3 Q1.6 -4.2 2.6 -3.2" fill="none" stroke="#555" stroke-width="0.6"/><ellipse cx="0.3" cy="0.0" rx="3.5" ry="3.1" fill="#e2e2e2" stroke="#666" stroke-width="0.6"/><circle cx="-1.0" cy="0.4" r="0.8" fill="#fff"/><circle cx="1.7" cy="0.4" r="0.8" fill="#fff"/><ellipse cx="0.4" cy="3.2" rx="1.6" ry="0.75" fill="#333"/></g>
<text transform="translate(33.10,138.34) rotate(0.1) scale(1.06,1)" font-size="5.0" text-anchor="end" fill="#222" font-weight="normal" stroke="#222" stroke-width="0.08" >V617</text>
<text transform="translate(265.60,138.84) rotate(0.1) scale(1.06,1)" font-size="5.0" text-anchor="start" fill="#222" font-weight="normal" stroke="#222" stroke-width="0.08" >V439</text>
<g transform="translate(12.20,136.40) scale(0.72)"><path d="M-4.6 -2.4 Q-3.0 -4.4 -0.6 -4.3 Q1.6 -4.2 2.6 -3.2" fill="none" stroke="#555" stroke-width="0.6"/><ellipse cx="0.3" cy="0.0" rx="3.5" ry="3.1" fill="#e2e2e2" stroke="#666" stroke-width="0.6"/><circle cx="-1.0" cy="0.4" r="0.8" fill="#fff"/><circle cx="1.7" cy="0.4" r="0.8" fill="#fff"/><ellipse cx="0.4" cy="3.2" rx="1.6" ry="0.75" fill="#333"/></g>
<g transform="translate(290.00,136.90) scale(0.72)"><path d="M-4.6 -2.4 Q-3.0 -4.4 -0.6 -4.3 Q1.6 -4.2 2.6 -3.2" fill="none" stroke="#555" stroke-width="0.6"/><ellipse cx="0.3" cy="0.0" rx="3.5" ry="3.1" fill="#e2e2e2" stroke="#666" stroke-width="0.6"/><circle cx="-1.0" cy="0.4" r="0.8" fill="#fff"/><circle cx="1.7" cy="0.4" r="0.8" fill="#fff"/><ellipse cx="0.4" cy="3.2" rx="1.6" ry="0.75" fill="#333"/></g>
<text transform="translate(33.10,143.44) rotate(0.1) scale(1.06,1)" font-size="5.0" text-anchor="end" fill="#222" font-weight="normal" stroke="#222" stroke-width="0.08" >V618</text>
<text transform="translate(265.60,144.14) rotate(0.1) scale(1.06,1)" font-size="5.0" text-anchor="start" fill="#222" font-weight="normal" stroke="#222" stroke-width="0.08" >V440</text>
<g transform="translate(10.80,141.50) scale(0.72)"><path d="M-4.6 -2.4 Q-3.0 -4.4 -0.6 -4.3 Q1.6 -4.2 2.6 -3.2" fill="none" stroke="#555" stroke-width="0.6"/><ellipse cx="0.3" cy="0.0" rx="3.5" ry="3.1" fill="#e2e2e2" stroke="#666" stroke-width="0.6"/><circle cx="-1.0" cy="0.4" r="0.8" fill="#fff"/><circle cx="1.7" cy="0.4" r="0.8" fill="#fff"/><ellipse cx="0.4" cy="3.2" rx="1.6" ry="0.75" fill="#333"/></g>
<g transform="translate(288.60,142.20) scale(0.72)"><path d="M-4.6 -2.4 Q-3.0 -4.4 -0.6 -4.3 Q1.6 -4.2 2.6 -3.2" fill="none" stroke="#555" stroke-width="0.6"/><ellipse cx="0.3" cy="0.0" rx="3.5" ry="3.1" fill="#e2e2e2" stroke="#666" stroke-width="0.6"/><circle cx="-1.0" cy="0.4" r="0.8" fill="#fff"/><circle cx="1.7" cy="0.4" r="0.8" fill="#fff"/><ellipse cx="0.4" cy="3.2" rx="1.6" ry="0.75" fill="#333"/></g>
<text transform="translate(33.10,148.34) rotate(0.1) scale(1.06,1)" font-size="5.0" text-anchor="end" fill="#222" font-weight="normal" stroke="#222" stroke-width="0.08" >V620</text>
<text transform="translate(265.60,149.44) rotate(0.1) scale(1.06,1)" font-size="5.0" text-anchor="start" fill="#222" font-weight="normal" stroke="#222" stroke-width="0.08" >V441</text>
<g transform="translate(9.40,146.40) scale(0.72)"><path d="M-4.6 -2.4 Q-3.0 -4.4 -0.6 -4.3 Q1.6 -4.2 2.6 -3.2" fill="none" stroke="#555" stroke-width="0.6"/><ellipse cx="0.3" cy="0.0" rx="3.5" ry="3.1" fill="#e2e2e2" stroke="#666" stroke-width="0.6"/><circle cx="-1.0" cy="0.4" r="0.8" fill="#fff"/><circle cx="1.7" cy="0.4" r="0.8" fill="#fff"/><ellipse cx="0.4" cy="3.2" rx="1.6" ry="0.75" fill="#333"/></g>
<g transform="translate(287.20,147.50) scale(0.72)"><path d="M-4.6 -2.4 Q-3.0 -4.4 -0.6 -4.3 Q1.6 -4.2 2.6 -3.2" fill="none" stroke="#555" stroke-width="0.6"/><ellipse cx="0.3" cy="0.0" rx="3.5" ry="3.1" fill="#e2e2e2" stroke="#666" stroke-width="0.6"/><circle cx="-1.0" cy="0.4" r="0.8" fill="#fff"/><circle cx="1.7" cy="0.4" r="0.8" fill="#fff"/><ellipse cx="0.4" cy="3.2" rx="1.6" ry="0.75" fill="#333"/></g>
<text transform="translate(33.10,153.24) rotate(0.1) scale(1.06,1)" font-size="5.0" text-anchor="end" fill="#222" font-weight="normal" stroke="#222" stroke-width="0.08" >V621</text>
<text transform="translate(264.40,154.74) rotate(0.1) scale(1.06,1)" font-size="5.0" text-anchor="start" fill="#222" font-weight="normal" stroke="#222" stroke-width="0.08" >WT-11</text>
<g transform="translate(12.20,151.30) scale(0.72)"><path d="M-4.6 -2.4 Q-3.0 -4.4 -0.6 -4.3 Q1.6 -4.2 2.6 -3.2" fill="none" stroke="#555" stroke-width="0.6"/><ellipse cx="0.3" cy="0.0" rx="3.5" ry="3.1" fill="#e2e2e2" stroke="#666" stroke-width="0.6"/><circle cx="-1.0" cy="0.4" r="0.8" fill="#fff"/><circle cx="1.7" cy="0.4" r="0.8" fill="#fff"/><ellipse cx="0.4" cy="3.2" rx="1.6" ry="0.75" fill="#333"/></g>
<g transform="translate(290.00,152.80) scale(0.72)"><path d="M-4.6 -2.4 Q-3.0 -4.4 -0.6 -4.3 Q1.6 -4.2 2.6 -3.2" fill="none" stroke="#555" stroke-width="0.6"/><ellipse cx="0.3" cy="0.0" rx="3.5" ry="3.1" fill="#ffffff" stroke="#666" stroke-width="0.6"/><circle cx="-1.0" cy="0.4" r="0.8" fill="#fff"/><circle cx="1.7" cy="0.4" r="0.8" fill="#fff"/><ellipse cx="0.4" cy="3.2" rx="1.6" ry="0.75" fill="#333"/></g>
<text transform="translate(33.10,158.24) rotate(0.1) scale(1.06,1)" font-size="5.0" text-anchor="end" fill="#222" font-weight="normal" stroke="#222" stroke-width="0.08" >V622</text>
<text transform="translate(264.40,159.94) rotate(0.1) scale(1.06,1)" font-size="5.0" text-anchor="start" fill="#222" font-weight="normal" stroke="#222" stroke-width="0.08" >WT-12</text>
<g transform="translate(10.80,156.30) scale(0.72)"><path d="M-4.6 -2.4 Q-3.0 -4.4 -0.6 -4.3 Q1.6 -4.2 2.6 -3.2" fill="none" stroke="#555" stroke-width="0.6"/><ellipse cx="0.3" cy="0.0" rx="3.5" ry="3.1" fill="#e2e2e2" stroke="#666" stroke-width="0.6"/><circle cx="-1.0" cy="0.4" r="0.8" fill="#fff"/><circle cx="1.7" cy="0.4" r="0.8" fill="#fff"/><ellipse cx="0.4" cy="3.2" rx="1.6" ry="0.75" fill="#333"/></g>
<g transform="translate(288.60,158.00) scale(0.72)"><path d="M-4.6 -2.4 Q-3.0 -4.4 -0.6 -4.3 Q1.6 -4.2 2.6 -3.2" fill="none" stroke="#555" stroke-width="0.6"/><ellipse cx="0.3" cy="0.0" rx="3.5" ry="3.1" fill="#ffffff" stroke="#666" stroke-width="0.6"/><circle cx="-1.0" cy="0.4" r="0.8" fill="#fff"/><circle cx="1.7" cy="0.4" r="0.8" fill="#fff"/><ellipse cx="0.4" cy="3.2" rx="1.6" ry="0.75" fill="#333"/></g>
<text transform="translate(33.10,163.14) rotate(0.1) scale(1.06,1)" font-size="5.0" text-anchor="end" fill="#222" font-weight="normal" stroke="#222" stroke-width="0.08" >V623</text>
<text transform="translate(264.40,165.04) rotate(0.1) scale(1.06,1)" font-size="5.0" text-anchor="start" fill="#222" font-weight="normal" stroke="#222" stroke-width="0.08" >WT-13</text>
<g transform="translate(9.40,161.20) scale(0.72)"><path d="M-4.6 -2.4 Q-3.0 -4.4 -0.6 -4.3 Q1.6 -4.2 2.6 -3.2" fill="none" stroke="#555" stroke-width="0.6"/><ellipse cx="0.3" cy="0.0" rx="3.5" ry="3.1" fill="#e2e2e2" stroke="#666" stroke-width="0.6"/><circle cx="-1.0" cy="0.4" r="0.8" fill="#fff"/><circle cx="1.7" cy="0.4" r="0.8" fill="#fff"/><ellipse cx="0.4" cy="3.2" rx="1.6" ry="0.75" fill="#333"/></g>
<g transform="translate(287.20,163.10) scale(0.72)"><path d="M-4.6 -2.4 Q-3.0 -4.4 -0.6 -4.3 Q1.6 -4.2 2.6 -3.2" fill="none" stroke="#555" stroke-width="0.6"/><ellipse cx="0.3" cy="0.0" rx="3.5" ry="3.1" fill="#ffffff" stroke="#666" stroke-width="0.6"/><circle cx="-1.0" cy="0.4" r="0.8" fill="#fff"/><circle cx="1.7" cy="0.4" r="0.8" fill="#fff"/><ellipse cx="0.4" cy="3.2" rx="1.6" ry="0.75" fill="#333"/></g>
<text transform="translate(144.20,29.33) rotate(0.1)" font-size="5.4" text-anchor="start" fill="#333" font-weight="normal" stroke="#333" stroke-width="0.08" >cage</text>
<line x1="138.10" y1="48.50" x2="141.20" y2="48.50" stroke="#2b2b2b" stroke-width="0.9" />
<line x1="157.60" y1="48.50" x2="160.90" y2="48.50" stroke="#2b2b2b" stroke-width="0.9" />
<text transform="translate(145.50,50.79) rotate(0.1) scale(0.8,1)" font-size="6.4" text-anchor="middle" fill="#333" font-weight="normal" stroke="#333" stroke-width="0.08" >3</text>
<text transform="translate(153.20,50.79) rotate(0.1) scale(0.8,1)" font-size="6.4" text-anchor="middle" fill="#333" font-weight="normal" stroke="#333" stroke-width="0.08" >1</text>
<line x1="138.10" y1="82.10" x2="141.20" y2="82.10" stroke="#2b2b2b" stroke-width="0.9" />
<line x1="157.60" y1="82.10" x2="160.90" y2="82.10" stroke="#2b2b2b" stroke-width="0.9" />
<text transform="translate(145.50,84.39) rotate(0.1) scale(0.8,1)" font-size="6.4" text-anchor="middle" fill="#333" font-weight="normal" stroke="#333" stroke-width="0.08" >4</text>
<text transform="translate(153.20,84.39) rotate(0.1) scale(0.8,1)" font-size="6.4" text-anchor="middle" fill="#333" font-weight="normal" stroke="#333" stroke-width="0.08" >2</text>
<line x1="138.10" y1="115.50" x2="141.20" y2="115.50" stroke="#2b2b2b" stroke-width="0.9" />
<line x1="157.60" y1="115.50" x2="160.90" y2="115.50" stroke="#2b2b2b" stroke-width="0.9" />
<text transform="translate(145.50,117.79) rotate(0.1) scale(0.8,1)" font-size="6.4" text-anchor="middle" fill="#333" font-weight="normal" stroke="#333" stroke-width="0.08" >7</text>
<text transform="translate(153.20,117.79) rotate(0.1) scale(0.8,1)" font-size="6.4" text-anchor="middle" fill="#333" font-weight="normal" stroke="#333" stroke-width="0.08" >5</text>
<line x1="138.10" y1="148.80" x2="141.20" y2="148.80" stroke="#2b2b2b" stroke-width="0.9" />
<line x1="157.60" y1="148.80" x2="160.90" y2="148.80" stroke="#2b2b2b" stroke-width="0.9" />
<text transform="translate(145.50,151.09) rotate(0.1) scale(0.8,1)" font-size="6.4" text-anchor="middle" fill="#333" font-weight="normal" stroke="#333" stroke-width="0.08" >8</text>
<text transform="translate(153.20,151.09) rotate(0.1) scale(0.8,1)" font-size="6.4" text-anchor="middle" fill="#333" font-weight="normal" stroke="#333" stroke-width="0.08" >6</text>
<line x1="40.84" y1="163.60" x2="40.84" y2="167.00" stroke="#2b2b2b" stroke-width="0.9" />
<text transform="translate(40.84,176.50) rotate(0.1)" font-size="5.3" text-anchor="middle" fill="#222" font-weight="normal" stroke="#222" stroke-width="0.08" >-10</text>
<line x1="48.62" y1="163.60" x2="48.62" y2="167.00" stroke="#2b2b2b" stroke-width="0.9" />
<text transform="translate(48.62,176.50) rotate(0.1)" font-size="5.3" text-anchor="middle" fill="#222" font-weight="normal" stroke="#222" stroke-width="0.08" >-5</text>
<line x1="56.40" y1="163.60" x2="56.40" y2="167.00" stroke="#2b2b2b" stroke-width="0.9" />
<text transform="translate(56.40,176.50) rotate(0.1)" font-size="5.3" text-anchor="middle" fill="#222" font-weight="normal" stroke="#222" stroke-width="0.08" >0</text>
<line x1="64.18" y1="163.60" x2="64.18" y2="167.00" stroke="#2b2b2b" stroke-width="0.9" />
<text transform="translate(64.18,176.50) rotate(0.1)" font-size="5.3" text-anchor="middle" fill="#222" font-weight="normal" stroke="#222" stroke-width="0.08" >5</text>
<line x1="71.96" y1="163.60" x2="71.96" y2="167.00" stroke="#2b2b2b" stroke-width="0.9" />
<text transform="translate(71.96,176.50) rotate(0.1)" font-size="5.3" text-anchor="middle" fill="#222" font-weight="normal" stroke="#222" stroke-width="0.08" >10</text>
<line x1="79.74" y1="163.60" x2="79.74" y2="167.00" stroke="#2b2b2b" stroke-width="0.9" />
<text transform="translate(79.74,176.50) rotate(0.1)" font-size="5.3" text-anchor="middle" fill="#222" font-weight="normal" stroke="#222" stroke-width="0.08" >15</text>
<line x1="87.52" y1="163.60" x2="87.52" y2="167.00" stroke="#2b2b2b" stroke-width="0.9" />
<text transform="translate(87.52,176.50) rotate(0.1)" font-size="5.3" text-anchor="middle" fill="#222" font-weight="normal" stroke="#222" stroke-width="0.08" >20</text>
<line x1="95.30" y1="163.60" x2="95.30" y2="167.00" stroke="#2b2b2b" stroke-width="0.9" />
<text transform="translate(95.30,176.50) rotate(0.1)" font-size="5.3" text-anchor="middle" fill="#222" font-weight="normal" stroke="#222" stroke-width="0.08" >25</text>
<line x1="103.08" y1="163.60" x2="103.08" y2="167.00" stroke="#2b2b2b" stroke-width="0.9" />
<text transform="translate(103.08,176.50) rotate(0.1)" font-size="5.3" text-anchor="middle" fill="#222" font-weight="normal" stroke="#222" stroke-width="0.08" >30</text>
<line x1="110.86" y1="163.60" x2="110.86" y2="167.00" stroke="#2b2b2b" stroke-width="0.9" />
<text transform="translate(110.86,176.50) rotate(0.1)" font-size="5.3" text-anchor="middle" fill="#222" font-weight="normal" stroke="#222" stroke-width="0.08" >35</text>
<line x1="118.64" y1="163.60" x2="118.64" y2="167.00" stroke="#2b2b2b" stroke-width="0.9" />
<text transform="translate(118.64,176.50) rotate(0.1)" font-size="5.3" text-anchor="middle" fill="#222" font-weight="normal" stroke="#222" stroke-width="0.08" >40</text>
<line x1="126.42" y1="163.60" x2="126.42" y2="167.00" stroke="#2b2b2b" stroke-width="0.9" />
<text transform="translate(126.42,176.50) rotate(0.1)" font-size="5.3" text-anchor="middle" fill="#222" font-weight="normal" stroke="#222" stroke-width="0.08" >45</text>
<line x1="134.20" y1="163.60" x2="134.20" y2="167.00" stroke="#2b2b2b" stroke-width="0.9" />
<text transform="translate(134.20,176.50) rotate(0.1)" font-size="5.3" text-anchor="middle" fill="#222" font-weight="normal" stroke="#222" stroke-width="0.08" >50</text>
<line x1="165.84" y1="163.60" x2="165.84" y2="167.00" stroke="#2b2b2b" stroke-width="0.9" />
<text transform="translate(165.84,176.50) rotate(0.1)" font-size="5.3" text-anchor="middle" fill="#222" font-weight="normal" stroke="#222" stroke-width="0.08" >-10</text>
<line x1="173.62" y1="163.60" x2="173.62" y2="167.00" stroke="#2b2b2b" stroke-width="0.9" />
<text transform="translate(173.62,176.50) rotate(0.1)" font-size="5.3" text-anchor="middle" fill="#222" font-weight="normal" stroke="#222" stroke-width="0.08" >-5</text>
<line x1="181.40" y1="163.60" x2="181.40" y2="167.00" stroke="#2b2b2b" stroke-width="0.9" />
<text transform="translate(181.40,176.50) rotate(0.1)" font-size="5.3" text-anchor="middle" fill="#222" font-weight="normal" stroke="#222" stroke-width="0.08" >0</text>
<line x1="189.18" y1="163.60" x2="189.18" y2="167.00" stroke="#2b2b2b" stroke-width="0.9" />
<text transform="translate(189.18,176.50) rotate(0.1)" font-size="5.3" text-anchor="middle" fill="#222" font-weight="normal" stroke="#222" stroke-width="0.08" >5</text>
<line x1="196.96" y1="163.60" x2="196.96" y2="167.00" stroke="#2b2b2b" stroke-width="0.9" />
<text transform="translate(196.96,176.50) rotate(0.1)" font-size="5.3" text-anchor="middle" fill="#222" font-weight="normal" stroke="#222" stroke-width="0.08" >10</text>
<line x1="204.74" y1="163.60" x2="204.74" y2="167.00" stroke="#2b2b2b" stroke-width="0.9" />
<text transform="translate(204.74,176.50) rotate(0.1)" font-size="5.3" text-anchor="middle" fill="#222" font-weight="normal" stroke="#222" stroke-width="0.08" >15</text>
<line x1="212.52" y1="163.60" x2="212.52" y2="167.00" stroke="#2b2b2b" stroke-width="0.9" />
<text transform="translate(212.52,176.50) rotate(0.1)" font-size="5.3" text-anchor="middle" fill="#222" font-weight="normal" stroke="#222" stroke-width="0.08" >20</text>
<line x1="220.30" y1="163.60" x2="220.30" y2="167.00" stroke="#2b2b2b" stroke-width="0.9" />
<text transform="translate(220.30,176.50) rotate(0.1)" font-size="5.3" text-anchor="middle" fill="#222" font-weight="normal" stroke="#222" stroke-width="0.08" >25</text>
<line x1="228.08" y1="163.60" x2="228.08" y2="167.00" stroke="#2b2b2b" stroke-width="0.9" />
<text transform="translate(228.08,176.50) rotate(0.1)" font-size="5.3" text-anchor="middle" fill="#222" font-weight="normal" stroke="#222" stroke-width="0.08" >30</text>
<line x1="235.86" y1="163.60" x2="235.86" y2="167.00" stroke="#2b2b2b" stroke-width="0.9" />
<text transform="translate(235.86,176.50) rotate(0.1)" font-size="5.3" text-anchor="middle" fill="#222" font-weight="normal" stroke="#222" stroke-width="0.08" >35</text>
<line x1="243.64" y1="163.60" x2="243.64" y2="167.00" stroke="#2b2b2b" stroke-width="0.9" />
<text transform="translate(243.64,176.50) rotate(0.1)" font-size="5.3" text-anchor="middle" fill="#222" font-weight="normal" stroke="#222" stroke-width="0.08" >40</text>
<line x1="251.42" y1="163.60" x2="251.42" y2="167.00" stroke="#2b2b2b" stroke-width="0.9" />
<text transform="translate(251.42,176.50) rotate(0.1)" font-size="5.3" text-anchor="middle" fill="#222" font-weight="normal" stroke="#222" stroke-width="0.08" >45</text>
<line x1="259.20" y1="163.60" x2="259.20" y2="167.00" stroke="#2b2b2b" stroke-width="0.9" />
<text transform="translate(259.20,176.50) rotate(0.1)" font-size="5.3" text-anchor="middle" fill="#222" font-weight="normal" stroke="#222" stroke-width="0.08" >50</text>
<text transform="translate(16.90,176.50) rotate(0.1)" font-size="5.3" text-anchor="start" fill="#222" font-weight="normal" stroke="#222" stroke-width="0.08" >Weeks</text>
<text transform="translate(267.00,176.70) rotate(0.1)" font-size="5.3" text-anchor="start" fill="#222" font-weight="normal" stroke="#222" stroke-width="0.08" >Weeks</text>
<g transform="translate(78.40,192.20) scale(1.2)"><path d="M-4.6 -2.4 Q-3.0 -4.4 -0.6 -4.3 Q1.6 -4.2 2.6 -3.2" fill="none" stroke="#555" stroke-width="0.6"/><ellipse cx="0.3" cy="0.0" rx="3.5" ry="3.1" fill="#c4c4c4" stroke="#666" stroke-width="0.6"/><circle cx="-1.0" cy="0.4" r="0.8" fill="#fff"/><circle cx="1.7" cy="0.4" r="0.8" fill="#fff"/><ellipse cx="0.4" cy="3.2" rx="1.6" ry="0.75" fill="#333"/></g>
<text transform="translate(85.30,194.90) rotate(0.1)" font-size="5.3" text-anchor="start" fill="#222" font-weight="normal" stroke="#222" stroke-width="0.08" >Pax5<tspan font-size="3.2" dy="-2">+/-</tspan></text>
<g transform="translate(78.40,206.60) scale(1.2)"><path d="M-4.6 -2.4 Q-3.0 -4.4 -0.6 -4.3 Q1.6 -4.2 2.6 -3.2" fill="none" stroke="#555" stroke-width="0.6"/><ellipse cx="0.3" cy="0.0" rx="3.5" ry="3.1" fill="#ffffff" stroke="#666" stroke-width="0.6"/><circle cx="-1.0" cy="0.4" r="0.8" fill="#fff"/><circle cx="1.7" cy="0.4" r="0.8" fill="#fff"/><ellipse cx="0.4" cy="3.2" rx="1.6" ry="0.75" fill="#333"/></g>
<text transform="translate(85.30,209.10) rotate(0.1)" font-size="5.3" text-anchor="start" fill="#222" font-weight="normal" stroke="#222" stroke-width="0.08" >Wildtype</text>
<rect x="116.00" y="189.50" width="1.50" height="7.30" fill="#1f3b70" />
<text transform="translate(121.70,195.53) rotate(0.1)" font-size="5.4" text-anchor="start" fill="#222" font-weight="normal" stroke="#222" stroke-width="0.08" >1 month co-housing</text>
<rect x="116.00" y="203.50" width="1.60" height="7.80" fill="#1a1a1a" />
<text transform="translate(121.70,209.53) rotate(0.1)" font-size="5.4" text-anchor="start" fill="#222" font-weight="normal" stroke="#222" stroke-width="0.08" >10 months co-housing</text>
<rect x="186.20" y="188.90" width="9.50" height="5.40" fill="#5d9fd8" />
<rect x="186.20" y="197.10" width="9.50" height="5.40" fill="#a8b47a" />
<rect x="186.20" y="205.20" width="9.50" height="5.50" fill="#a8102c" />
<text transform="translate(198.80,193.50) rotate(0.1)" font-size="5.3" text-anchor="start" fill="#222" font-weight="normal" stroke="#222" stroke-width="0.08" >co-housing</text>
<text transform="translate(198.80,201.70) rotate(0.1)" font-size="5.3" text-anchor="start" fill="#222" font-weight="normal" stroke="#222" stroke-width="0.08" >healthy</text>
<text transform="translate(198.80,209.90) rotate(0.1)" font-size="5.3" text-anchor="start" fill="#222" font-weight="normal" stroke="#222" stroke-width="0.08" >pB-ALL</text>
<text transform="translate(309.00,14.82) rotate(0.1)" font-size="10.4" text-anchor="start" fill="#000" font-weight="bold" >B</text>
<text transform="translate(315.60,36.96) rotate(0.1)" font-size="6.3" text-anchor="start" fill="#222" font-weight="normal" stroke="#222" stroke-width="0.08" >Axis 2 (6.972 %)</text>
<defs><filter id="blur" x="-30%" y="-30%" width="160%" height="160%"><feGaussianBlur stdDeviation="3.2"/></filter><filter id="blur2" x="-30%" y="-30%" width="160%" height="160%"><feGaussianBlur stdDeviation="2.6"/></filter></defs>
<path d="M392 43 L396 58 L390 78 L370 92 L350 101 L330 100 L319 90 L318 76 L326 64 L345 54 L370 46 Z" fill="#b6b6f8" filter="url(#blur)"/>
<path d="M399 97 L404 108 L394 124 L378 137 L366 136 L364 124 L376 110 L390 100 Z" fill="#c0c0f8" filter="url(#blur2)"/>
<path d="M420 113 L433 120 L430 140 L420 154 L405 160 L385 160 L380 148 L383 130 L398 120 Z" fill="#f4bcbc" filter="url(#blur2)"/>
<circle cx="352.4" cy="62.7" r="2.6" fill="#1515d5"/>
<circle cx="324.7" cy="72.9" r="2.6" fill="#1515d5"/>
<circle cx="336.3" cy="77.4" r="2.6" fill="#1515d5"/>
<circle cx="344.3" cy="77.4" r="2.6" fill="#1515d5"/>
<circle cx="355.3" cy="74.3" r="2.6" fill="#1515d5"/>
<circle cx="343.4" cy="87.0" r="2.6" fill="#1515d5"/>
<circle cx="361.6" cy="89.0" r="2.6" fill="#1515d5"/>
<circle cx="371.9" cy="67.1" r="2.6" fill="#1515d5"/>
<circle cx="372.8" cy="74.9" r="2.6" fill="#1515d5"/>
<circle cx="380.0" cy="64.3" r="2.6" fill="#1515d5"/>
<circle cx="384.4" cy="64.3" r="2.6" fill="#1515d5"/>
<path d="M383.10 45.50 L389.10 45.50 L386.10 50.60 Z" fill="#1515d5"/>
<path d="M327.80 63.80 L333.80 63.80 L330.80 68.90 Z" fill="#1515d5"/>
<path d="M322.90 75.00 L328.90 75.00 L325.90 80.10 Z" fill="#1515d5"/>
<path d="M317.40 81.10 L323.40 81.10 L320.40 86.20 Z" fill="#1515d5"/>
<path d="M338.70 78.90 L344.70 78.90 L341.70 84.00 Z" fill="#1515d5"/>
<path d="M352.30 77.60 L358.30 77.60 L355.30 82.70 Z" fill="#1515d5"/>
<path d="M364.10 66.70 L370.10 66.70 L367.10 71.80 Z" fill="#1515d5"/>
<path d="M361.20 82.00 L367.20 82.00 L364.20 87.10 Z" fill="#1515d5"/>
<path d="M377.90 79.70 L383.90 79.70 L380.90 84.80 Z" fill="#1515d5"/>
<path d="M334.70 94.40 L340.70 94.40 L337.70 99.50 Z" fill="#1515d5"/>
<path d="M343.00 94.40 L349.00 94.40 L346.00 99.50 Z" fill="#1515d5"/>
<circle cx="399.5" cy="100.2" r="0.75" fill="#1515d5"/>
<circle cx="392.0" cy="105.0" r="0.75" fill="#1515d5"/>
<circle cx="398.5" cy="110.2" r="0.75" fill="#1515d5"/>
<circle cx="380.0" cy="112.0" r="0.75" fill="#1515d5"/>
<circle cx="391.5" cy="112.0" r="0.75" fill="#1515d5"/>
<circle cx="389.0" cy="116.5" r="0.75" fill="#1515d5"/>
<circle cx="383.0" cy="118.0" r="0.75" fill="#1515d5"/>
<circle cx="386.0" cy="122.0" r="0.75" fill="#1515d5"/>
<circle cx="387.0" cy="123.2" r="0.75" fill="#1515d5"/>
<circle cx="389.5" cy="123.0" r="0.75" fill="#1515d5"/>
<circle cx="391.5" cy="123.5" r="0.75" fill="#1515d5"/>
<circle cx="379.5" cy="126.0" r="0.75" fill="#1515d5"/>
<circle cx="383.5" cy="126.2" r="0.75" fill="#1515d5"/>
<circle cx="391.0" cy="127.0" r="0.75" fill="#1515d5"/>
<circle cx="366.5" cy="127.0" r="0.75" fill="#1515d5"/>
<circle cx="372.0" cy="131.0" r="0.75" fill="#1515d5"/>
<circle cx="373.0" cy="132.0" r="0.75" fill="#1515d5"/>
<circle cx="376.0" cy="134.5" r="0.75" fill="#1515d5"/>
<circle cx="382.5" cy="133.0" r="0.75" fill="#1515d5"/>
<circle cx="387.5" cy="132.0" r="0.75" fill="#1515d5"/>
<circle cx="395.0" cy="127.5" r="0.75" fill="#1515d5"/>
<circle cx="407.0" cy="123.5" r="0.75" fill="#1515d5"/>
<circle cx="406.0" cy="124.5" r="0.75" fill="#1515d5"/>
<circle cx="402.4" cy="131.9" r="2.7" fill="#cc1111" stroke="#8a0a0a" stroke-width="0.6"/>
<circle cx="408.1" cy="141.2" r="2.7" fill="#cc1111" stroke="#8a0a0a" stroke-width="0.6"/>
<circle cx="415.1" cy="137.0" r="2.7" fill="#cc1111" stroke="#8a0a0a" stroke-width="0.6"/>
<circle cx="419.3" cy="142.5" r="2.7" fill="#cc1111" stroke="#8a0a0a" stroke-width="0.6"/>
<circle cx="417.2" cy="144.6" r="2.7" fill="#cc1111" stroke="#8a0a0a" stroke-width="0.6"/>
<circle cx="411.9" cy="145.4" r="2.7" fill="#cc1111" stroke="#8a0a0a" stroke-width="0.6"/>
<circle cx="408.5" cy="144.5" r="2.7" fill="#cc1111" stroke="#8a0a0a" stroke-width="0.6"/>
<circle cx="387.0" cy="145.4" r="2.7" fill="#cc1111" stroke="#8a0a0a" stroke-width="0.6"/>
<circle cx="389.7" cy="151.3" r="2.7" fill="#cc1111" stroke="#8a0a0a" stroke-width="0.6"/>
<circle cx="387.6" cy="153.0" r="2.7" fill="#cc1111" stroke="#8a0a0a" stroke-width="0.6"/>
<circle cx="386.1" cy="156.0" r="2.7" fill="#cc1111" stroke="#8a0a0a" stroke-width="0.6"/>
<circle cx="413.0" cy="141.0" r="2.7" fill="#cc1111" stroke="#8a0a0a" stroke-width="0.6"/>
<circle cx="394.0" cy="149.0" r="2.7" fill="#cc1111" stroke="#8a0a0a" stroke-width="0.6"/>
<path d="M388.40 133.10 L394.40 133.10 L391.40 138.20 Z" fill="#cc1111" stroke="#8a0a0a" stroke-width="0.4"/>
<path d="M395.20 132.00 L401.20 132.00 L398.20 137.10 Z" fill="#cc1111" stroke="#8a0a0a" stroke-width="0.4"/>
<path d="M388.80 141.60 L394.80 141.60 L391.80 146.70 Z" fill="#cc1111" stroke="#8a0a0a" stroke-width="0.4"/>
<path d="M411.00 133.10 L417.00 133.10 L414.00 138.20 Z" fill="#cc1111" stroke="#8a0a0a" stroke-width="0.4"/>
<path d="M391.00 150.00 L397.00 150.00 L394.00 155.10 Z" fill="#cc1111" stroke="#8a0a0a" stroke-width="0.4"/>
<path d="M398.30 154.20 L404.30 154.20 L401.30 159.30 Z" fill="#cc1111" stroke="#8a0a0a" stroke-width="0.4"/>
<path d="M403.00 154.20 L409.00 154.20 L406.00 159.30 Z" fill="#cc1111" stroke="#8a0a0a" stroke-width="0.4"/>
<path d="M402.60 146.80 L408.60 146.80 L405.60 151.90 Z" fill="#cc1111" stroke="#8a0a0a" stroke-width="0.4"/>
<path d="M393.50 148.10 L399.50 148.10 L396.50 153.20 Z" fill="#cc1111" stroke="#8a0a0a" stroke-width="0.4"/>
<circle cx="413.0" cy="116.4" r="0.75" fill="#cc1111"/>
<circle cx="423.6" cy="117.0" r="0.75" fill="#cc1111"/>
<circle cx="430.0" cy="121.3" r="0.75" fill="#cc1111"/>
<circle cx="421.4" cy="125.0" r="0.75" fill="#cc1111"/>
<circle cx="426.3" cy="125.0" r="0.75" fill="#cc1111"/>
<circle cx="405.2" cy="120.2" r="0.75" fill="#cc1111"/>
<circle cx="397.0" cy="147.0" r="0.75" fill="#cc1111"/>
<circle cx="401.0" cy="142.0" r="0.75" fill="#cc1111"/>
<circle cx="398.0" cy="139.0" r="0.75" fill="#cc1111"/>
<circle cx="404.0" cy="152.0" r="0.75" fill="#cc1111"/>
<circle cx="420.0" cy="130.0" r="0.75" fill="#cc1111"/>
<text transform="translate(338.60,110.29) rotate(0.1)" font-size="6.4" text-anchor="middle" fill="#3a3aee" font-weight="normal" stroke="#3a3aee" stroke-width="0.08" >CF</text>
<text transform="translate(338.80,118.19) rotate(0.1)" font-size="6.4" text-anchor="middle" fill="#3a3aee" font-weight="normal" stroke="#3a3aee" stroke-width="0.08" >10 months</text>
<text transform="translate(360.00,142.09) rotate(0.1)" font-size="6.4" text-anchor="middle" fill="#3a3aee" font-weight="normal" stroke="#3a3aee" stroke-width="0.08" >CF</text>
<text transform="translate(360.00,149.79) rotate(0.1)" font-size="6.4" text-anchor="middle" fill="#3a3aee" font-weight="normal" stroke="#3a3aee" stroke-width="0.08" >1 month</text>
<text transform="translate(435.50,141.26) rotate(0.1)" font-size="6.6" text-anchor="middle" fill="#d82a2a" font-weight="normal" stroke="#d82a2a" stroke-width="0.08" >SPF</text>
<line x1="314.10" y1="46.80" x2="314.10" y2="165.00" stroke="#111" stroke-width="1.2" />
<line x1="313.50" y1="164.40" x2="461.00" y2="164.60" stroke="#111" stroke-width="1.3" />
<path d="M314 163.9 L341.5 165.3 L341.5 166.3 L314 165.1 Z" fill="#111"/>
<text transform="translate(425.60,162.06) rotate(0.1)" font-size="6.3" text-anchor="start" fill="#222" font-weight="normal" stroke="#222" stroke-width="0.08" >Axis 1 (9.784 %)</text>
<text transform="translate(316.30,173.46) rotate(0.1)" font-size="6.3" text-anchor="start" fill="#222" font-weight="normal" stroke="#222" stroke-width="0.08" >Axis 3 (3.323 %)</text>
<text transform="translate(444.20,43.16) rotate(0.1)" font-size="6.6" text-anchor="middle" fill="#d01030" font-weight="normal" stroke="#d01030" stroke-width="0.08" >SPF</text>
<text transform="translate(464.60,43.16) rotate(0.1)" font-size="6.6" text-anchor="middle" fill="#2222ee" font-weight="normal" stroke="#2222ee" stroke-width="0.08" >CF</text>
<text transform="translate(432.60,48.93) rotate(0.1)" font-size="5.4" text-anchor="end" fill="#222" font-weight="normal" stroke="#222" stroke-width="0.08" >1 month</text>
<text transform="translate(432.60,58.23) rotate(0.1)" font-size="5.4" text-anchor="end" fill="#222" font-weight="normal" stroke="#222" stroke-width="0.08" >10 months</text>
<circle cx="438.5" cy="47.2" r="0.75" fill="#b01020"/>
<circle cx="438.5" cy="56.3" r="2.2" fill="#b01020"/>
<g transform="translate(438.50,65.60) scale(1.0)"><path d="M-4.6 -2.4 Q-3.0 -4.4 -0.6 -4.3 Q1.6 -4.2 2.6 -3.2" fill="none" stroke="#555" stroke-width="0.6"/><ellipse cx="0.3" cy="0.0" rx="3.5" ry="3.1" fill="#ffffff" stroke="#666" stroke-width="0.6"/><circle cx="-1.0" cy="0.4" r="0.8" fill="#fff"/><circle cx="1.7" cy="0.4" r="0.8" fill="#fff"/><ellipse cx="0.4" cy="3.2" rx="1.6" ry="0.75" fill="#333"/></g>
<circle cx="447.4" cy="47.2" r="0.75" fill="#b01020"/>
<path d="M445.10 54.3 L449.70 54.3 L447.40 58.3 Z" fill="#b01020"/>
<g transform="translate(447.40,65.60) scale(1.0)"><path d="M-4.6 -2.4 Q-3.0 -4.4 -0.6 -4.3 Q1.6 -4.2 2.6 -3.2" fill="none" stroke="#555" stroke-width="0.6"/><ellipse cx="0.3" cy="0.0" rx="3.5" ry="3.1" fill="#c4c4c4" stroke="#666" stroke-width="0.6"/><circle cx="-1.0" cy="0.4" r="0.8" fill="#fff"/><circle cx="1.7" cy="0.4" r="0.8" fill="#fff"/><ellipse cx="0.4" cy="3.2" rx="1.6" ry="0.75" fill="#333"/></g>
<circle cx="459.7" cy="47.2" r="0.75" fill="#1515d5"/>
<circle cx="459.7" cy="56.3" r="2.2" fill="#1515d5"/>
<g transform="translate(459.70,65.60) scale(1.0)"><path d="M-4.6 -2.4 Q-3.0 -4.4 -0.6 -4.3 Q1.6 -4.2 2.6 -3.2" fill="none" stroke="#555" stroke-width="0.6"/><ellipse cx="0.3" cy="0.0" rx="3.5" ry="3.1" fill="#ffffff" stroke="#666" stroke-width="0.6"/><circle cx="-1.0" cy="0.4" r="0.8" fill="#fff"/><circle cx="1.7" cy="0.4" r="0.8" fill="#fff"/><ellipse cx="0.4" cy="3.2" rx="1.6" ry="0.75" fill="#333"/></g>
<circle cx="468.9" cy="47.2" r="0.75" fill="#1515d5"/>
<path d="M466.60 54.3 L471.20 54.3 L468.90 58.3 Z" fill="#1515d5"/>
<g transform="translate(468.90,65.60) scale(1.0)"><path d="M-4.6 -2.4 Q-3.0 -4.4 -0.6 -4.3 Q1.6 -4.2 2.6 -3.2" fill="none" stroke="#555" stroke-width="0.6"/><ellipse cx="0.3" cy="0.0" rx="3.5" ry="3.1" fill="#c4c4c4" stroke="#666" stroke-width="0.6"/><circle cx="-1.0" cy="0.4" r="0.8" fill="#fff"/><circle cx="1.7" cy="0.4" r="0.8" fill="#fff"/><ellipse cx="0.4" cy="3.2" rx="1.6" ry="0.75" fill="#333"/></g>
<text transform="translate(440.40,81.60) rotate(-89.9)" font-size="5.4" text-anchor="start" fill="#222" font-weight="normal" stroke="#222" stroke-width="0.08">WT</text>
<text transform="translate(449.30,89.20) rotate(-89.9)" font-size="5.4" text-anchor="start" fill="#222" font-weight="normal" stroke="#222" stroke-width="0.08">Pax5<tspan font-size="3.4" dy="-2">+/-</tspan></text>
<text transform="translate(461.60,81.60) rotate(-89.9)" font-size="5.4" text-anchor="start" fill="#222" font-weight="normal" stroke="#222" stroke-width="0.08">WT</text>
<text transform="translate(470.80,89.20) rotate(-89.9)" font-size="5.4" text-anchor="start" fill="#222" font-weight="normal" stroke="#222" stroke-width="0.08">Pax5<tspan font-size="3.4" dy="-2">+/-</tspan></text>
<text transform="translate(45.80,265.76) rotate(0.1)" font-size="6.6" text-anchor="end" fill="#222" font-weight="normal" stroke="#222" stroke-width="0.08" >intra: Pax5+/-</text>
<text transform="translate(45.80,288.16) rotate(0.1)" font-size="6.6" text-anchor="end" fill="#222" font-weight="normal" stroke="#222" stroke-width="0.08" >inter</text>
<text transform="translate(45.80,310.46) rotate(0.1)" font-size="6.6" text-anchor="end" fill="#222" font-weight="normal" stroke="#222" stroke-width="0.08" >intra: WT</text>
<g>
<text transform="translate(6.20,236.59) rotate(0.1)" font-size="10.6" text-anchor="start" fill="#000" font-weight="bold" >C</text>
<text transform="translate(107.60,247.34) rotate(0.1)" font-size="8.2" text-anchor="middle" fill="#222" font-weight="normal" stroke="#222" stroke-width="0.08" >CF</text>
<line x1="64.60" y1="252.20" x2="64.60" y2="319.90" stroke="#1a1a1a" stroke-width="1.3" />
<line x1="64.00" y1="319.30" x2="153.46" y2="319.30" stroke="#1a1a1a" stroke-width="1.4" />
<line x1="61.60" y1="263.20" x2="64.60" y2="263.20" stroke="#1a1a1a" stroke-width="1.0" />
<line x1="61.60" y1="285.80" x2="64.60" y2="285.80" stroke="#1a1a1a" stroke-width="1.0" />
<line x1="61.60" y1="308.10" x2="64.60" y2="308.10" stroke="#1a1a1a" stroke-width="1.0" />
<line x1="64.60" y1="319.30" x2="64.60" y2="322.60" stroke="#1a1a1a" stroke-width="1.0" />
<text transform="translate(66.80,329.30) rotate(-44.9) scale(0.85,1)" font-size="7.3" text-anchor="end" fill="#222" font-weight="normal" stroke="#222" stroke-width="0.08">0.350</text>
<line x1="75.52" y1="319.30" x2="75.52" y2="322.60" stroke="#1a1a1a" stroke-width="1.0" />
<text transform="translate(77.72,329.30) rotate(-44.9) scale(0.85,1)" font-size="7.3" text-anchor="end" fill="#222" font-weight="normal" stroke="#222" stroke-width="0.08">0.375</text>
<line x1="86.44" y1="319.30" x2="86.44" y2="322.60" stroke="#1a1a1a" stroke-width="1.0" />
<text transform="translate(88.64,329.30) rotate(-44.9) scale(0.85,1)" font-size="7.3" text-anchor="end" fill="#222" font-weight="normal" stroke="#222" stroke-width="0.08">0.400</text>
<line x1="97.36" y1="319.30" x2="97.36" y2="322.60" stroke="#1a1a1a" stroke-width="1.0" />
<text transform="translate(99.56,329.30) rotate(-44.9) scale(0.85,1)" font-size="7.3" text-anchor="end" fill="#222" font-weight="normal" stroke="#222" stroke-width="0.08">0.425</text>
<line x1="108.28" y1="319.30" x2="108.28" y2="322.60" stroke="#1a1a1a" stroke-width="1.0" />
<text transform="translate(110.48,329.30) rotate(-44.9) scale(0.85,1)" font-size="7.3" text-anchor="end" fill="#222" font-weight="normal" stroke="#222" stroke-width="0.08">0.450</text>
<line x1="119.20" y1="319.30" x2="119.20" y2="322.60" stroke="#1a1a1a" stroke-width="1.0" />
<text transform="translate(121.40,329.30) rotate(-44.9) scale(0.85,1)" font-size="7.3" text-anchor="end" fill="#222" font-weight="normal" stroke="#222" stroke-width="0.08">0.475</text>
<line x1="130.12" y1="319.30" x2="130.12" y2="322.60" stroke="#1a1a1a" stroke-width="1.0" />
<text transform="translate(132.32,329.30) rotate(-44.9) scale(0.85,1)" font-size="7.3" text-anchor="end" fill="#222" font-weight="normal" stroke="#222" stroke-width="0.08">0.500</text>
<line x1="141.04" y1="319.30" x2="141.04" y2="322.60" stroke="#1a1a1a" stroke-width="1.0" />
<text transform="translate(143.24,329.30) rotate(-44.9) scale(0.85,1)" font-size="7.3" text-anchor="end" fill="#222" font-weight="normal" stroke="#222" stroke-width="0.08">0.525</text>
<line x1="151.96" y1="319.30" x2="151.96" y2="322.60" stroke="#1a1a1a" stroke-width="1.0" />
<text transform="translate(154.16,329.30) rotate(-44.9) scale(0.85,1)" font-size="7.3" text-anchor="end" fill="#222" font-weight="normal" stroke="#222" stroke-width="0.08">0.550</text>
<text transform="translate(55.00,285.60) rotate(-89.9) scale(0.93,1)" font-size="7.3" text-anchor="middle" fill="#222" font-weight="normal" stroke="#222" stroke-width="0.08">1 month together</text>
<text transform="translate(109.50,351.40) rotate(0.1) scale(0.83,1)" font-size="8.4" text-anchor="middle" fill="#222" font-weight="normal" stroke="#222" stroke-width="0.08">Unweighted unifrac</text>
<line x1="96.20" y1="263.20" x2="103.80" y2="263.20" stroke="#333" stroke-width="1.2" />
<line x1="112.70" y1="263.20" x2="118.90" y2="263.20" stroke="#333" stroke-width="1.2" />
<line x1="96.20" y1="258.80" x2="96.20" y2="267.60" stroke="#333" stroke-width="1.2" />
<line x1="118.90" y1="258.80" x2="118.90" y2="267.60" stroke="#333" stroke-width="1.2" />
<rect x="103.80" y="254.40" width="8.90" height="17.60" fill="#68a9e5" stroke="#7ab9f2" stroke-width="0.7"/>
<rect x="108.15" y="254.40" width="1.50" height="17.60" fill="#15283c" />
<rect x="89.10" y="262.50" width="1.40" height="1.40" fill="#444" />
<line x1="106.30" y1="285.80" x2="117.30" y2="285.80" stroke="#333" stroke-width="1.2" />
<line x1="134.90" y1="285.80" x2="147.20" y2="285.80" stroke="#333" stroke-width="1.2" />
<line x1="106.30" y1="281.40" x2="106.30" y2="290.20" stroke="#333" stroke-width="1.2" />
<line x1="147.20" y1="281.40" x2="147.20" y2="290.20" stroke="#333" stroke-width="1.2" />
<rect x="117.30" y="277.00" width="17.60" height="17.60" fill="#a96a26" stroke="#9e5c18" stroke-width="0.7"/>
<rect x="124.65" y="277.00" width="1.50" height="17.60" fill="#111" />
<line x1="91.50" y1="308.10" x2="99.00" y2="308.10" stroke="#333" stroke-width="1.2" />
<line x1="108.90" y1="308.10" x2="118.00" y2="308.10" stroke="#333" stroke-width="1.2" />
<line x1="91.50" y1="303.70" x2="91.50" y2="312.50" stroke="#333" stroke-width="1.2" />
<line x1="118.00" y1="303.70" x2="118.00" y2="312.50" stroke="#333" stroke-width="1.2" />
<rect x="99.00" y="299.30" width="9.90" height="17.60" fill="#6cac4a" stroke="#5ca43a" stroke-width="0.7"/>
<rect x="100.75" y="299.30" width="1.50" height="17.60" fill="#111" />
<rect x="86.60" y="307.40" width="1.40" height="1.40" fill="#444" />
<text transform="translate(70.00,264.93) rotate(0.1)" font-size="5.4" text-anchor="start" fill="#222" font-weight="normal" stroke="#222" stroke-width="0.08" >n=6</text>
<text transform="translate(65.20,287.93) rotate(0.1)" font-size="5.4" text-anchor="start" fill="#222" font-weight="normal" stroke="#222" stroke-width="0.08" >p: 0.001</text>
<text transform="translate(70.00,310.13) rotate(0.1)" font-size="5.4" text-anchor="start" fill="#222" font-weight="normal" stroke="#222" stroke-width="0.08" >n=6</text>
</g>
<g>
<text transform="translate(168.00,236.59) rotate(0.1)" font-size="10.6" text-anchor="start" fill="#000" font-weight="bold" >D</text>
<text transform="translate(227.30,247.34) rotate(0.1)" font-size="8.2" text-anchor="middle" fill="#222" font-weight="normal" stroke="#222" stroke-width="0.08" >SPF</text>
<line x1="183.60" y1="252.20" x2="183.60" y2="319.90" stroke="#1a1a1a" stroke-width="1.3" />
<line x1="183.00" y1="319.30" x2="272.46" y2="319.30" stroke="#1a1a1a" stroke-width="1.4" />
<line x1="180.60" y1="263.20" x2="183.60" y2="263.20" stroke="#1a1a1a" stroke-width="1.0" />
<line x1="180.60" y1="285.80" x2="183.60" y2="285.80" stroke="#1a1a1a" stroke-width="1.0" />
<line x1="180.60" y1="308.10" x2="183.60" y2="308.10" stroke="#1a1a1a" stroke-width="1.0" />
<line x1="183.60" y1="319.30" x2="183.60" y2="322.60" stroke="#1a1a1a" stroke-width="1.0" />
<text transform="translate(185.80,329.30) rotate(-44.9) scale(0.85,1)" font-size="7.3" text-anchor="end" fill="#222" font-weight="normal" stroke="#222" stroke-width="0.08">0.350</text>
<line x1="194.52" y1="319.30" x2="194.52" y2="322.60" stroke="#1a1a1a" stroke-width="1.0" />
<text transform="translate(196.72,329.30) rotate(-44.9) scale(0.85,1)" font-size="7.3" text-anchor="end" fill="#222" font-weight="normal" stroke="#222" stroke-width="0.08">0.375</text>
<line x1="205.44" y1="319.30" x2="205.44" y2="322.60" stroke="#1a1a1a" stroke-width="1.0" />
<text transform="translate(207.64,329.30) rotate(-44.9) scale(0.85,1)" font-size="7.3" text-anchor="end" fill="#222" font-weight="normal" stroke="#222" stroke-width="0.08">0.400</text>
<line x1="216.36" y1="319.30" x2="216.36" y2="322.60" stroke="#1a1a1a" stroke-width="1.0" />
<text transform="translate(218.56,329.30) rotate(-44.9) scale(0.85,1)" font-size="7.3" text-anchor="end" fill="#222" font-weight="normal" stroke="#222" stroke-width="0.08">0.425</text>
<line x1="227.28" y1="319.30" x2="227.28" y2="322.60" stroke="#1a1a1a" stroke-width="1.0" />
<text transform="translate(229.48,329.30) rotate(-44.9) scale(0.85,1)" font-size="7.3" text-anchor="end" fill="#222" font-weight="normal" stroke="#222" stroke-width="0.08">0.450</text>
<line x1="238.20" y1="319.30" x2="238.20" y2="322.60" stroke="#1a1a1a" stroke-width="1.0" />
<text transform="translate(240.40,329.30) rotate(-44.9) scale(0.85,1)" font-size="7.3" text-anchor="end" fill="#222" font-weight="normal" stroke="#222" stroke-width="0.08">0.475</text>
<line x1="249.12" y1="319.30" x2="249.12" y2="322.60" stroke="#1a1a1a" stroke-width="1.0" />
<text transform="translate(251.32,329.30) rotate(-44.9) scale(0.85,1)" font-size="7.3" text-anchor="end" fill="#222" font-weight="normal" stroke="#222" stroke-width="0.08">0.500</text>
<line x1="260.04" y1="319.30" x2="260.04" y2="322.60" stroke="#1a1a1a" stroke-width="1.0" />
<text transform="translate(262.24,329.30) rotate(-44.9) scale(0.85,1)" font-size="7.3" text-anchor="end" fill="#222" font-weight="normal" stroke="#222" stroke-width="0.08">0.525</text>
<line x1="270.96" y1="319.30" x2="270.96" y2="322.60" stroke="#1a1a1a" stroke-width="1.0" />
<text transform="translate(273.16,329.30) rotate(-44.9) scale(0.85,1)" font-size="7.3" text-anchor="end" fill="#222" font-weight="normal" stroke="#222" stroke-width="0.08">0.550</text>
<text transform="translate(174.50,285.60) rotate(-89.9) scale(0.93,1)" font-size="7.3" text-anchor="middle" fill="#222" font-weight="normal" stroke="#222" stroke-width="0.08">1 month together</text>
<text transform="translate(228.60,351.40) rotate(0.1) scale(0.83,1)" font-size="8.4" text-anchor="middle" fill="#222" font-weight="normal" stroke="#222" stroke-width="0.08">Unweighted unifrac</text>
<line x1="216.80" y1="263.20" x2="222.70" y2="263.20" stroke="#333" stroke-width="1.2" />
<line x1="231.60" y1="263.20" x2="234.80" y2="263.20" stroke="#333" stroke-width="1.2" />
<line x1="216.80" y1="258.80" x2="216.80" y2="267.60" stroke="#333" stroke-width="1.2" />
<line x1="234.80" y1="258.80" x2="234.80" y2="267.60" stroke="#333" stroke-width="1.2" />
<rect x="222.70" y="254.40" width="8.90" height="17.60" fill="#68a9e5" stroke="#7ab9f2" stroke-width="0.7"/>
<rect x="226.15" y="254.40" width="1.50" height="17.60" fill="#15283c" />
<line x1="221.60" y1="285.80" x2="226.90" y2="285.80" stroke="#333" stroke-width="1.2" />
<line x1="237.50" y1="285.80" x2="246.60" y2="285.80" stroke="#333" stroke-width="1.2" />
<line x1="221.60" y1="281.40" x2="221.60" y2="290.20" stroke="#333" stroke-width="1.2" />
<line x1="246.60" y1="281.40" x2="246.60" y2="290.20" stroke="#333" stroke-width="1.2" />
<rect x="226.90" y="277.00" width="10.60" height="17.60" fill="#a96a26" stroke="#9e5c18" stroke-width="0.7"/>
<rect x="229.95" y="277.00" width="1.50" height="17.60" fill="#111" />
<rect x="207.20" y="285.10" width="1.40" height="1.40" fill="#444" />
<rect x="251.20" y="285.10" width="1.40" height="1.40" fill="#444" />
<line x1="195.60" y1="308.10" x2="197.30" y2="308.10" stroke="#333" stroke-width="1.2" />
<line x1="207.50" y1="308.10" x2="222.30" y2="308.10" stroke="#333" stroke-width="1.2" />
<line x1="195.60" y1="303.70" x2="195.60" y2="312.50" stroke="#333" stroke-width="1.2" />
<line x1="222.30" y1="303.70" x2="222.30" y2="312.50" stroke="#333" stroke-width="1.2" />
<rect x="197.30" y="299.30" width="10.20" height="17.60" fill="#6cac4a" stroke="#5ca43a" stroke-width="0.7"/>
<rect x="200.35" y="299.30" width="1.50" height="17.60" fill="#111" />
<text transform="translate(259.80,265.23) rotate(0.1)" font-size="5.4" text-anchor="start" fill="#222" font-weight="normal" stroke="#222" stroke-width="0.08" >n=4*</text>
<text transform="translate(254.40,286.53) rotate(0.1)" font-size="5.4" text-anchor="start" fill="#222" font-weight="normal" stroke="#222" stroke-width="0.08" >p: 0.006*</text>
<text transform="translate(260.80,309.53) rotate(0.1)" font-size="5.4" text-anchor="start" fill="#222" font-weight="normal" stroke="#222" stroke-width="0.08" >n=6</text>
</g>
<g>
<text transform="translate(289.00,236.59) rotate(0.1)" font-size="10.6" text-anchor="start" fill="#000" font-weight="bold" >E</text>
<text transform="translate(347.30,247.34) rotate(0.1)" font-size="8.2" text-anchor="middle" fill="#222" font-weight="normal" stroke="#222" stroke-width="0.08" >CF</text>
<line x1="303.90" y1="252.20" x2="303.90" y2="319.90" stroke="#1a1a1a" stroke-width="1.3" />
<line x1="303.30" y1="319.30" x2="393.00" y2="319.30" stroke="#1a1a1a" stroke-width="1.4" />
<line x1="300.90" y1="263.20" x2="303.90" y2="263.20" stroke="#1a1a1a" stroke-width="1.0" />
<line x1="300.90" y1="285.80" x2="303.90" y2="285.80" stroke="#1a1a1a" stroke-width="1.0" />
<line x1="300.90" y1="308.10" x2="303.90" y2="308.10" stroke="#1a1a1a" stroke-width="1.0" />
<line x1="303.90" y1="319.30" x2="303.90" y2="322.60" stroke="#1a1a1a" stroke-width="1.0" />
<text transform="translate(306.10,329.30) rotate(-44.9) scale(0.85,1)" font-size="7.3" text-anchor="end" fill="#222" font-weight="normal" stroke="#222" stroke-width="0.08">0.350</text>
<line x1="314.85" y1="319.30" x2="314.85" y2="322.60" stroke="#1a1a1a" stroke-width="1.0" />
<text transform="translate(317.05,329.30) rotate(-44.9) scale(0.85,1)" font-size="7.3" text-anchor="end" fill="#222" font-weight="normal" stroke="#222" stroke-width="0.08">0.375</text>
<line x1="325.80" y1="319.30" x2="325.80" y2="322.60" stroke="#1a1a1a" stroke-width="1.0" />
<text transform="translate(328.00,329.30) rotate(-44.9) scale(0.85,1)" font-size="7.3" text-anchor="end" fill="#222" font-weight="normal" stroke="#222" stroke-width="0.08">0.400</text>
<line x1="336.75" y1="319.30" x2="336.75" y2="322.60" stroke="#1a1a1a" stroke-width="1.0" />
<text transform="translate(338.95,329.30) rotate(-44.9) scale(0.85,1)" font-size="7.3" text-anchor="end" fill="#222" font-weight="normal" stroke="#222" stroke-width="0.08">0.425</text>
<line x1="347.70" y1="319.30" x2="347.70" y2="322.60" stroke="#1a1a1a" stroke-width="1.0" />
<text transform="translate(349.90,329.30) rotate(-44.9) scale(0.85,1)" font-size="7.3" text-anchor="end" fill="#222" font-weight="normal" stroke="#222" stroke-width="0.08">0.450</text>
<line x1="358.65" y1="319.30" x2="358.65" y2="322.60" stroke="#1a1a1a" stroke-width="1.0" />
<text transform="translate(360.85,329.30) rotate(-44.9) scale(0.85,1)" font-size="7.3" text-anchor="end" fill="#222" font-weight="normal" stroke="#222" stroke-width="0.08">0.475</text>
<line x1="369.60" y1="319.30" x2="369.60" y2="322.60" stroke="#1a1a1a" stroke-width="1.0" />
<text transform="translate(371.80,329.30) rotate(-44.9) scale(0.85,1)" font-size="7.3" text-anchor="end" fill="#222" font-weight="normal" stroke="#222" stroke-width="0.08">0.500</text>
<line x1="380.55" y1="319.30" x2="380.55" y2="322.60" stroke="#1a1a1a" stroke-width="1.0" />
<text transform="translate(382.75,329.30) rotate(-44.9) scale(0.85,1)" font-size="7.3" text-anchor="end" fill="#222" font-weight="normal" stroke="#222" stroke-width="0.08">0.525</text>
<line x1="391.50" y1="319.30" x2="391.50" y2="322.60" stroke="#1a1a1a" stroke-width="1.0" />
<text transform="translate(393.70,329.30) rotate(-44.9) scale(0.85,1)" font-size="7.3" text-anchor="end" fill="#222" font-weight="normal" stroke="#222" stroke-width="0.08">0.550</text>
<text transform="translate(294.50,285.60) rotate(-89.9) scale(0.93,1)" font-size="7.3" text-anchor="middle" fill="#222" font-weight="normal" stroke="#222" stroke-width="0.08">10 month together</text>
<text transform="translate(348.60,351.40) rotate(0.1) scale(0.83,1)" font-size="8.4" text-anchor="middle" fill="#222" font-weight="normal" stroke="#222" stroke-width="0.08">Unweighted unifrac</text>
<line x1="340.00" y1="263.20" x2="352.70" y2="263.20" stroke="#333" stroke-width="1.2" />
<line x1="362.40" y1="263.20" x2="372.30" y2="263.20" stroke="#333" stroke-width="1.2" />
<line x1="340.00" y1="258.80" x2="340.00" y2="267.60" stroke="#333" stroke-width="1.2" />
<line x1="372.30" y1="258.80" x2="372.30" y2="267.60" stroke="#333" stroke-width="1.2" />
<rect x="352.70" y="254.40" width="9.70" height="17.60" fill="#68a9e5" stroke="#7ab9f2" stroke-width="0.7"/>
<rect x="357.75" y="254.40" width="1.50" height="17.60" fill="#15283c" />
<line x1="347.40" y1="285.80" x2="364.90" y2="285.80" stroke="#333" stroke-width="1.2" />
<line x1="383.20" y1="285.80" x2="390.80" y2="285.80" stroke="#333" stroke-width="1.2" />
<line x1="347.40" y1="281.40" x2="347.40" y2="290.20" stroke="#333" stroke-width="1.2" />
<line x1="390.80" y1="281.40" x2="390.80" y2="290.20" stroke="#333" stroke-width="1.2" />
<rect x="364.90" y="277.00" width="18.30" height="17.60" fill="#a96a26" stroke="#9e5c18" stroke-width="0.7"/>
<rect x="373.45" y="277.00" width="1.50" height="17.60" fill="#111" />
<line x1="324.30" y1="308.10" x2="341.20" y2="308.10" stroke="#333" stroke-width="1.2" />
<line x1="357.30" y1="308.10" x2="374.60" y2="308.10" stroke="#333" stroke-width="1.2" />
<line x1="324.30" y1="303.70" x2="324.30" y2="312.50" stroke="#333" stroke-width="1.2" />
<line x1="374.60" y1="303.70" x2="374.60" y2="312.50" stroke="#333" stroke-width="1.2" />
<rect x="341.20" y="299.30" width="16.10" height="17.60" fill="#6cac4a" stroke="#5ca43a" stroke-width="0.7"/>
<rect x="345.45" y="299.30" width="1.50" height="17.60" fill="#111" />
<text transform="translate(309.60,265.23) rotate(0.1)" font-size="5.4" text-anchor="start" fill="#222" font-weight="normal" stroke="#222" stroke-width="0.08" >n=5</text>
<text transform="translate(304.40,287.73) rotate(0.1)" font-size="5.4" text-anchor="start" fill="#222" font-weight="normal" stroke="#222" stroke-width="0.08" >p: 0.003</text>
<text transform="translate(309.60,310.03) rotate(0.1)" font-size="5.4" text-anchor="start" fill="#222" font-weight="normal" stroke="#222" stroke-width="0.08" >n=6</text>
</g>
<g>
<text transform="translate(408.60,236.59) rotate(0.1)" font-size="10.6" text-anchor="start" fill="#000" font-weight="bold" >F</text>
<text transform="translate(466.50,247.34) rotate(0.1)" font-size="8.2" text-anchor="middle" fill="#222" font-weight="normal" stroke="#222" stroke-width="0.08" >SPF</text>
<line x1="422.60" y1="252.20" x2="422.60" y2="319.90" stroke="#1a1a1a" stroke-width="1.3" />
<line x1="422.00" y1="319.30" x2="512.90" y2="319.30" stroke="#1a1a1a" stroke-width="1.4" />
<line x1="419.60" y1="263.20" x2="422.60" y2="263.20" stroke="#1a1a1a" stroke-width="1.0" />
<line x1="419.60" y1="285.80" x2="422.60" y2="285.80" stroke="#1a1a1a" stroke-width="1.0" />
<line x1="419.60" y1="308.10" x2="422.60" y2="308.10" stroke="#1a1a1a" stroke-width="1.0" />
<line x1="422.60" y1="319.30" x2="422.60" y2="322.60" stroke="#1a1a1a" stroke-width="1.0" />
<text transform="translate(424.80,329.30) rotate(-44.9) scale(0.85,1)" font-size="7.3" text-anchor="end" fill="#222" font-weight="normal" stroke="#222" stroke-width="0.08">0.350</text>
<line x1="433.70" y1="319.30" x2="433.70" y2="322.60" stroke="#1a1a1a" stroke-width="1.0" />
<text transform="translate(435.90,329.30) rotate(-44.9) scale(0.85,1)" font-size="7.3" text-anchor="end" fill="#222" font-weight="normal" stroke="#222" stroke-width="0.08">0.375</text>
<line x1="444.80" y1="319.30" x2="444.80" y2="322.60" stroke="#1a1a1a" stroke-width="1.0" />
<text transform="translate(447.00,329.30) rotate(-44.9) scale(0.85,1)" font-size="7.3" text-anchor="end" fill="#222" font-weight="normal" stroke="#222" stroke-width="0.08">0.400</text>
<line x1="455.90" y1="319.30" x2="455.90" y2="322.60" stroke="#1a1a1a" stroke-width="1.0" />
<text transform="translate(458.10,329.30) rotate(-44.9) scale(0.85,1)" font-size="7.3" text-anchor="end" fill="#222" font-weight="normal" stroke="#222" stroke-width="0.08">0.425</text>
<line x1="467.00" y1="319.30" x2="467.00" y2="322.60" stroke="#1a1a1a" stroke-width="1.0" />
<text transform="translate(469.20,329.30) rotate(-44.9) scale(0.85,1)" font-size="7.3" text-anchor="end" fill="#222" font-weight="normal" stroke="#222" stroke-width="0.08">0.450</text>
<line x1="478.10" y1="319.30" x2="478.10" y2="322.60" stroke="#1a1a1a" stroke-width="1.0" />
<text transform="translate(480.30,329.30) rotate(-44.9) scale(0.85,1)" font-size="7.3" text-anchor="end" fill="#222" font-weight="normal" stroke="#222" stroke-width="0.08">0.475</text>
<line x1="489.20" y1="319.30" x2="489.20" y2="322.60" stroke="#1a1a1a" stroke-width="1.0" />
<text transform="translate(491.40,329.30) rotate(-44.9) scale(0.85,1)" font-size="7.3" text-anchor="end" fill="#222" font-weight="normal" stroke="#222" stroke-width="0.08">0.500</text>
<line x1="500.30" y1="319.30" x2="500.30" y2="322.60" stroke="#1a1a1a" stroke-width="1.0" />
<text transform="translate(502.50,329.30) rotate(-44.9) scale(0.85,1)" font-size="7.3" text-anchor="end" fill="#222" font-weight="normal" stroke="#222" stroke-width="0.08">0.525</text>
<line x1="511.40" y1="319.30" x2="511.40" y2="322.60" stroke="#1a1a1a" stroke-width="1.0" />
<text transform="translate(513.60,329.30) rotate(-44.9) scale(0.85,1)" font-size="7.3" text-anchor="end" fill="#222" font-weight="normal" stroke="#222" stroke-width="0.08">0.550</text>
<text transform="translate(413.50,285.60) rotate(-89.9) scale(0.93,1)" font-size="7.3" text-anchor="middle" fill="#222" font-weight="normal" stroke="#222" stroke-width="0.08">10 month together</text>
<text transform="translate(467.80,351.40) rotate(0.1) scale(0.83,1)" font-size="8.4" text-anchor="middle" fill="#222" font-weight="normal" stroke="#222" stroke-width="0.08">Unweighted unifrac</text>
<line x1="422.60" y1="263.20" x2="435.10" y2="263.20" stroke="#333" stroke-width="1.2" />
<line x1="451.90" y1="263.20" x2="466.90" y2="263.20" stroke="#333" stroke-width="1.2" />
<line x1="422.60" y1="258.80" x2="422.60" y2="267.60" stroke="#333" stroke-width="1.2" />
<line x1="466.90" y1="258.80" x2="466.90" y2="267.60" stroke="#333" stroke-width="1.2" />
<rect x="435.10" y="254.40" width="16.80" height="17.60" fill="#68a9e5" stroke="#7ab9f2" stroke-width="0.7"/>
<rect x="443.05" y="254.40" width="1.50" height="17.60" fill="#15283c" />
<line x1="443.40" y1="285.80" x2="461.20" y2="285.80" stroke="#333" stroke-width="1.2" />
<line x1="473.40" y1="285.80" x2="480.80" y2="285.80" stroke="#333" stroke-width="1.2" />
<line x1="443.40" y1="281.40" x2="443.40" y2="290.20" stroke="#333" stroke-width="1.2" />
<line x1="480.80" y1="281.40" x2="480.80" y2="290.20" stroke="#333" stroke-width="1.2" />
<rect x="461.20" y="277.00" width="12.20" height="17.60" fill="#a96a26" stroke="#9e5c18" stroke-width="0.7"/>
<rect x="465.05" y="277.00" width="1.50" height="17.60" fill="#111" />
<rect x="491.60" y="285.10" width="1.40" height="1.40" fill="#444" />
<line x1="429.50" y1="308.10" x2="436.90" y2="308.10" stroke="#333" stroke-width="1.2" />
<line x1="445.50" y1="308.10" x2="455.40" y2="308.10" stroke="#333" stroke-width="1.2" />
<line x1="429.50" y1="303.70" x2="429.50" y2="312.50" stroke="#333" stroke-width="1.2" />
<line x1="455.40" y1="303.70" x2="455.40" y2="312.50" stroke="#333" stroke-width="1.2" />
<rect x="436.90" y="299.30" width="8.60" height="17.60" fill="#6cac4a" stroke="#5ca43a" stroke-width="0.7"/>
<rect x="441.95" y="299.30" width="1.50" height="17.60" fill="#111" />
<text transform="translate(499.20,265.23) rotate(0.1)" font-size="5.4" text-anchor="start" fill="#222" font-weight="normal" stroke="#222" stroke-width="0.08" >n=6</text>
<text transform="translate(494.20,287.73) rotate(0.1)" font-size="5.4" text-anchor="start" fill="#222" font-weight="normal" stroke="#222" stroke-width="0.08" >p: 0.001</text>
<text transform="translate(499.20,310.03) rotate(0.1)" font-size="5.4" text-anchor="start" fill="#222" font-weight="normal" stroke="#222" stroke-width="0.08" >n=6</text>
</g>
<text transform="translate(6.80,366.32) rotate(0.1)" font-size="10.4" text-anchor="start" fill="#000" font-weight="bold" >G</text>
<text transform="translate(84.50,379.68) rotate(0.1)" font-size="8.6" text-anchor="middle" fill="#111" font-weight="bold" >16S rRNA V4 region</text>
<rect x="47.40" y="384.30" width="36.70" height="36.30" fill="#f5f9fe" />
<text transform="translate(65.75,405.96) rotate(0.1) scale(0.92,1)" font-size="9.8" text-anchor="middle" fill="#111" font-weight="normal" stroke="#111" stroke-width="0.08" >6</text>
<rect x="84.10" y="384.30" width="36.70" height="36.30" fill="#62a5df" />
<text transform="translate(102.45,405.96) rotate(0.1) scale(0.92,1)" font-size="9.8" text-anchor="middle" fill="#fff" font-weight="normal" stroke="#fff" stroke-width="0.08" >84</text>
<rect x="47.40" y="420.60" width="36.70" height="36.30" fill="#28467a" />
<text transform="translate(65.75,442.26) rotate(0.1) scale(0.92,1)" font-size="9.8" text-anchor="middle" fill="#fff" font-weight="normal" stroke="#fff" stroke-width="0.08" >159</text>
<rect x="84.10" y="420.60" width="36.70" height="36.30" fill="#f5f9fe" />
<text transform="translate(102.45,442.26) rotate(0.1) scale(0.92,1)" font-size="9.8" text-anchor="middle" fill="#111" font-weight="normal" stroke="#111" stroke-width="0.08" >2</text>
<rect x="47.40" y="384.30" width="73.40" height="72.60" fill="none" stroke="#111" stroke-width="1.4"/>
<line x1="44.40" y1="402.45" x2="47.40" y2="402.45" stroke="#111" stroke-width="1.0" />
<text transform="translate(42.10,404.85) rotate(0.1)" font-size="6.3" text-anchor="end" fill="#222" font-weight="normal" stroke="#222" stroke-width="0.08">WT</text>
<line x1="44.40" y1="438.75" x2="47.40" y2="438.75" stroke="#111" stroke-width="1.0" />
<text transform="translate(42.10,441.15) rotate(0.1)" font-size="6.3" text-anchor="end" fill="#222" font-weight="normal" stroke="#222" stroke-width="0.08">Pax5+/-</text>
<line x1="65.75" y1="456.90" x2="65.75" y2="459.90" stroke="#111" stroke-width="1.0" />
<text transform="translate(65.75,469.30) rotate(0.1)" font-size="6.3" text-anchor="middle" fill="#222" font-weight="normal" stroke="#222" stroke-width="0.08">Pax5+/-</text>
<line x1="102.45" y1="456.90" x2="102.45" y2="459.90" stroke="#111" stroke-width="1.0" />
<text transform="translate(102.45,469.30) rotate(0.1)" font-size="6.3" text-anchor="middle" fill="#222" font-weight="normal" stroke="#222" stroke-width="0.08">WT</text>
<text transform="translate(84.10,481.60) rotate(0.1) scale(0.875,1)" font-size="7.8" text-anchor="middle" fill="#222" font-weight="normal" stroke="#222" stroke-width="0.08">Predicted genotype</text>
<text transform="translate(141.00,366.32) rotate(0.1)" font-size="10.4" text-anchor="start" fill="#000" font-weight="bold" >H</text>
<text transform="translate(209.60,379.68) rotate(0.1)" font-size="8.6" text-anchor="middle" fill="#111" font-weight="bold" >16S rRNA full length</text>
<rect x="173.00" y="384.30" width="36.65" height="36.30" fill="#f5f9fe" />
<text transform="translate(191.32,405.96) rotate(0.1) scale(0.92,1)" font-size="9.8" text-anchor="middle" fill="#111" font-weight="normal" stroke="#111" stroke-width="0.08" >0</text>
<rect x="209.65" y="384.30" width="36.65" height="36.30" fill="#b5d4ef" />
<text transform="translate(227.97,405.96) rotate(0.1) scale(0.92,1)" font-size="9.8" text-anchor="middle" fill="#111" font-weight="normal" stroke="#111" stroke-width="0.08" >8</text>
<rect x="173.00" y="420.60" width="36.65" height="36.30" fill="#28467a" />
<text transform="translate(191.32,442.26) rotate(0.1) scale(0.92,1)" font-size="9.8" text-anchor="middle" fill="#fff" font-weight="normal" stroke="#fff" stroke-width="0.08" >57</text>
<rect x="209.65" y="420.60" width="36.65" height="36.30" fill="#f5f9fe" />
<text transform="translate(227.97,442.26) rotate(0.1) scale(0.92,1)" font-size="9.8" text-anchor="middle" fill="#111" font-weight="normal" stroke="#111" stroke-width="0.08" >0</text>
<rect x="173.00" y="384.30" width="73.30" height="72.60" fill="none" stroke="#111" stroke-width="1.4"/>
<line x1="170.00" y1="402.45" x2="173.00" y2="402.45" stroke="#111" stroke-width="1.0" />
<text transform="translate(167.70,404.85) rotate(0.1)" font-size="6.3" text-anchor="end" fill="#222" font-weight="normal" stroke="#222" stroke-width="0.08">WT</text>
<line x1="170.00" y1="438.75" x2="173.00" y2="438.75" stroke="#111" stroke-width="1.0" />
<text transform="translate(167.70,441.15) rotate(0.1)" font-size="6.3" text-anchor="end" fill="#222" font-weight="normal" stroke="#222" stroke-width="0.08">Pax5+/-</text>
<line x1="191.32" y1="456.90" x2="191.32" y2="459.90" stroke="#111" stroke-width="1.0" />
<text transform="translate(191.32,469.30) rotate(0.1)" font-size="6.3" text-anchor="middle" fill="#222" font-weight="normal" stroke="#222" stroke-width="0.08">Pax5+/-</text>
<line x1="227.97" y1="456.90" x2="227.97" y2="459.90" stroke="#111" stroke-width="1.0" />
<text transform="translate(227.97,469.30) rotate(0.1)" font-size="6.3" text-anchor="middle" fill="#222" font-weight="normal" stroke="#222" stroke-width="0.08">WT</text>
<text transform="translate(209.65,481.60) rotate(0.1) scale(0.875,1)" font-size="7.8" text-anchor="middle" fill="#222" font-weight="normal" stroke="#222" stroke-width="0.08">Predicted genotype</text>
<text transform="translate(13.40,421.30) rotate(-89.9) scale(0.85,1)" font-size="7.8" text-anchor="middle" fill="#222" font-weight="normal" stroke="#222" stroke-width="0.08">True genotype</text>
<text transform="translate(7.20,508.38) rotate(0.1)" font-size="10.0" text-anchor="start" fill="#000" font-weight="bold" >I</text>
<text transform="translate(363.00,508.78) rotate(0.1)" font-size="10.0" text-anchor="start" fill="#000" font-weight="bold" >J</text>
<text transform="translate(197.50,520.86) rotate(0.1)" font-size="8.0" text-anchor="middle" fill="#222" font-weight="normal" stroke="#222" stroke-width="0.08" >CF</text>
<text transform="translate(427.30,521.66) rotate(0.1)" font-size="8.0" text-anchor="middle" fill="#222" font-weight="normal" stroke="#222" stroke-width="0.08" >SPF</text>
<line x1="38.80" y1="527.00" x2="38.80" y2="621.60" stroke="#333" stroke-width="1.2" />
<text transform="translate(36.40,623.00) rotate(0.1) scale(0.95,1)" font-size="7.0" text-anchor="end" fill="#222" font-weight="normal" stroke="#222" stroke-width="0.08">0.000</text>
<text transform="translate(36.40,606.40) rotate(0.1) scale(0.95,1)" font-size="7.0" text-anchor="end" fill="#222" font-weight="normal" stroke="#222" stroke-width="0.08">0.005</text>
<text transform="translate(36.40,589.80) rotate(0.1) scale(0.95,1)" font-size="7.0" text-anchor="end" fill="#222" font-weight="normal" stroke="#222" stroke-width="0.08">0.010</text>
<text transform="translate(36.40,573.20) rotate(0.1) scale(0.95,1)" font-size="7.0" text-anchor="end" fill="#222" font-weight="normal" stroke="#222" stroke-width="0.08">0.015</text>
<text transform="translate(36.40,556.60) rotate(0.1) scale(0.95,1)" font-size="7.0" text-anchor="end" fill="#222" font-weight="normal" stroke="#222" stroke-width="0.08">0.020</text>
<text transform="translate(36.40,540.00) rotate(0.1) scale(0.95,1)" font-size="7.0" text-anchor="end" fill="#222" font-weight="normal" stroke="#222" stroke-width="0.08">0.025</text>
<text transform="translate(15.00,573.80) rotate(-89.9) scale(0.91,1)" font-size="8.4" text-anchor="middle" fill="#222" font-weight="normal" stroke="#222" stroke-width="0.08">Relative abundance</text>
<rect x="50.00" y="534.30" width="76.80" height="39.50" fill="#e3e3e3" stroke="#c8c8c8" stroke-width="0.6"/>
<rect x="55.50" y="538.00" width="7.50" height="4.00" fill="#243f7c" />
<text transform="translate(66.30,542.00) rotate(0.1)" font-size="5.4" text-anchor="start" fill="#222" font-weight="normal" stroke="#222" stroke-width="0.08">4: family: S24-7</text>
<rect x="55.50" y="546.80" width="7.50" height="4.00" fill="#b8c48e" />
<text transform="translate(66.30,550.80) rotate(0.1)" font-size="5.4" text-anchor="start" fill="#222" font-weight="normal" stroke="#222" stroke-width="0.08">2: family: Rikenellaceae</text>
<rect x="55.50" y="555.50" width="7.50" height="4.00" fill="#62ad3c" />
<text transform="translate(66.30,559.50) rotate(0.1)" font-size="5.4" text-anchor="start" fill="#222" font-weight="normal" stroke="#222" stroke-width="0.08">3: family: S24-7</text>
<rect x="55.50" y="565.50" width="7.50" height="4.00" fill="#b80f2a" />
<text transform="translate(66.30,569.50) rotate(0.1)" font-size="5.4" text-anchor="start" fill="#222" font-weight="normal" stroke="#222" stroke-width="0.08">1: genus: Oscillospira</text>
<line x1="38.80" y1="620.60" x2="352.80" y2="620.60" stroke="#222" stroke-width="1.4" />
<line x1="185.50" y1="620.60" x2="185.50" y2="622.80" stroke="#222" stroke-width="0.9" />
<line x1="332.60" y1="620.60" x2="332.60" y2="622.80" stroke="#222" stroke-width="0.9" />
<rect x="202.30" y="615.20" width="3.10" height="4.80" fill="#62ad3c" />
<rect x="257.80" y="613.80" width="2.90" height="6.20" fill="#62ad3c" />
<rect x="264.20" y="616.10" width="3.10" height="3.90" fill="#62ad3c" />
<rect x="267.30" y="616.80" width="2.60" height="3.20" fill="#62ad3c" />
<rect x="310.00" y="617.80" width="2.80" height="2.20" fill="#62ad3c" />
<rect x="316.30" y="616.80" width="2.90" height="3.20" fill="#62ad3c" />
<rect x="326.10" y="615.60" width="3.10" height="4.40" fill="#62ad3c" />
<rect x="332.60" y="601.80" width="3.33" height="18.20" fill="#243f7c" />
<rect x="332.60" y="585.30" width="3.33" height="16.50" fill="#b8c48e" />
<rect x="332.60" y="579.40" width="3.33" height="5.90" fill="#62ad3c" />
<rect x="332.60" y="575.70" width="3.33" height="3.70" fill="#b80f2a" />
<rect x="335.93" y="608.60" width="3.33" height="11.40" fill="#243f7c" />
<rect x="335.93" y="600.60" width="3.33" height="8.00" fill="#b8c48e" />
<rect x="335.93" y="597.20" width="3.33" height="3.40" fill="#62ad3c" />
<rect x="335.93" y="594.30" width="3.33" height="2.90" fill="#b80f2a" />
<rect x="339.27" y="549.70" width="3.33" height="70.30" fill="#b8c48e" />
<rect x="342.60" y="593.80" width="3.33" height="26.20" fill="#b8c48e" />
<rect x="345.93" y="578.00" width="3.33" height="42.00" fill="#243f7c" />
<rect x="345.93" y="522.60" width="3.33" height="55.40" fill="#b8c48e" />
<rect x="349.27" y="605.70" width="3.33" height="14.30" fill="#243f7c" />
<rect x="349.27" y="593.00" width="3.33" height="12.70" fill="#b8c48e" />
<rect x="349.27" y="587.00" width="3.33" height="6.00" fill="#b80f2a" />
<line x1="332.60" y1="522.60" x2="332.60" y2="620.30" stroke="#666" stroke-width="0.8" />
<line x1="352.60" y1="522.60" x2="352.60" y2="620.30" stroke="#666" stroke-width="0.8" />
<text transform="translate(167.30,632.99) rotate(0.1)" font-size="6.4" text-anchor="middle" fill="#222" font-weight="normal" stroke="#222" stroke-width="0.08" >Pax5+/-</text>
<text transform="translate(167.30,640.49) rotate(0.1)" font-size="6.4" text-anchor="middle" fill="#222" font-weight="normal" stroke="#222" stroke-width="0.08" >(n=90)</text>
<text transform="translate(342.60,632.69) rotate(0.1)" font-size="6.4" text-anchor="middle" fill="#222" font-weight="normal" stroke="#222" stroke-width="0.08" >WT</text>
<text transform="translate(342.60,640.59) rotate(0.1)" font-size="6.4" text-anchor="middle" fill="#222" font-weight="normal" stroke="#222" stroke-width="0.08" >(n=6)</text>
<line x1="371.90" y1="527.00" x2="371.90" y2="620.50" stroke="#666" stroke-width="0.8" />
<line x1="371.40" y1="620.50" x2="481.00" y2="620.50" stroke="#222" stroke-width="1.4" />
<line x1="371.90" y1="620.50" x2="371.90" y2="622.80" stroke="#222" stroke-width="0.9" />
<line x1="460.00" y1="620.50" x2="460.00" y2="622.80" stroke="#222" stroke-width="0.9" />
<rect x="375.20" y="617.80" width="3.10" height="2.20" fill="#62ad3c" />
<rect x="378.40" y="617.00" width="3.10" height="3.00" fill="#b8c48e" />
<rect x="378.40" y="616.40" width="3.10" height="0.60" fill="#62ad3c" />
<rect x="385.20" y="617.60" width="3.10" height="2.40" fill="#243f7c" />
<rect x="385.20" y="615.20" width="3.10" height="2.40" fill="#62ad3c" />
<rect x="391.60" y="617.30" width="3.10" height="2.70" fill="#243f7c" />
<rect x="391.60" y="616.60" width="3.10" height="0.70" fill="#62ad3c" />
<rect x="394.90" y="618.30" width="3.10" height="1.70" fill="#243f7c" />
<rect x="394.90" y="617.50" width="3.10" height="0.80" fill="#62ad3c" />
<rect x="398.10" y="618.30" width="3.10" height="1.70" fill="#243f7c" />
<rect x="398.10" y="617.80" width="3.10" height="0.50" fill="#62ad3c" />
<rect x="401.30" y="616.40" width="3.10" height="3.60" fill="#243f7c" />
<rect x="404.60" y="616.40" width="3.10" height="3.60" fill="#243f7c" />
<rect x="404.60" y="614.70" width="3.10" height="1.70" fill="#62ad3c" />
<rect x="407.80" y="613.80" width="3.10" height="6.20" fill="#243f7c" />
<rect x="411.00" y="613.80" width="3.10" height="6.20" fill="#243f7c" />
<rect x="414.20" y="618.70" width="3.10" height="1.30" fill="#62ad3c" />
<rect x="417.50" y="616.40" width="3.10" height="3.60" fill="#243f7c" />
<rect x="417.50" y="613.50" width="3.10" height="2.90" fill="#62ad3c" />
<rect x="420.70" y="618.80" width="3.10" height="1.20" fill="#62ad3c" />
<rect x="423.60" y="617.30" width="3.10" height="2.70" fill="#62ad3c" />
<rect x="430.60" y="613.50" width="3.10" height="6.50" fill="#243f7c" />
<rect x="430.60" y="610.40" width="3.10" height="3.10" fill="#62ad3c" />
<rect x="433.80" y="618.60" width="3.10" height="1.40" fill="#b8c48e" />
<rect x="433.80" y="617.80" width="3.10" height="0.80" fill="#b80f2a" />
<rect x="437.00" y="616.40" width="3.10" height="3.60" fill="#62ad3c" />
<rect x="440.10" y="609.90" width="3.10" height="10.10" fill="#243f7c" />
<rect x="443.20" y="609.90" width="3.10" height="10.10" fill="#243f7c" />
<rect x="443.20" y="607.40" width="3.10" height="2.50" fill="#62ad3c" />
<rect x="450.00" y="618.60" width="3.10" height="1.40" fill="#243f7c" />
<rect x="460.00" y="597.40" width="3.17" height="22.60" fill="#243f7c" />
<rect x="460.00" y="585.10" width="3.17" height="12.30" fill="#b8c48e" />
<rect x="460.00" y="576.80" width="3.17" height="8.30" fill="#62ad3c" />
<rect x="460.00" y="574.20" width="3.17" height="2.60" fill="#b80f2a" />
<rect x="463.17" y="598.00" width="3.17" height="22.00" fill="#243f7c" />
<rect x="463.17" y="582.60" width="3.17" height="15.40" fill="#b8c48e" />
<rect x="463.17" y="573.10" width="3.17" height="9.50" fill="#62ad3c" />
<rect x="463.17" y="571.30" width="3.17" height="1.80" fill="#b80f2a" />
<rect x="466.33" y="611.60" width="3.17" height="8.40" fill="#243f7c" />
<rect x="466.33" y="598.60" width="3.17" height="13.00" fill="#b8c48e" />
<rect x="466.33" y="592.50" width="3.17" height="6.10" fill="#62ad3c" />
<rect x="466.33" y="590.90" width="3.17" height="1.60" fill="#b80f2a" />
<rect x="469.50" y="611.60" width="3.17" height="8.40" fill="#243f7c" />
<rect x="469.50" y="593.10" width="3.17" height="18.50" fill="#b8c48e" />
<rect x="469.50" y="590.00" width="3.17" height="3.10" fill="#62ad3c" />
<rect x="469.50" y="587.50" width="3.17" height="2.50" fill="#b80f2a" />
<rect x="472.67" y="573.10" width="3.17" height="46.90" fill="#243f7c" />
<rect x="472.67" y="561.00" width="3.17" height="12.10" fill="#b8c48e" />
<rect x="472.67" y="552.40" width="3.17" height="8.60" fill="#62ad3c" />
<rect x="472.67" y="551.20" width="3.17" height="1.20" fill="#b80f2a" />
<rect x="475.83" y="586.70" width="3.17" height="33.30" fill="#243f7c" />
<rect x="475.83" y="567.20" width="3.17" height="19.50" fill="#b8c48e" />
<rect x="475.83" y="555.90" width="3.17" height="11.30" fill="#62ad3c" />
<rect x="475.83" y="552.60" width="3.17" height="3.30" fill="#b80f2a" />
<line x1="460.00" y1="522.50" x2="460.00" y2="620.30" stroke="#666" stroke-width="0.8" />
<line x1="479.00" y1="522.50" x2="479.00" y2="620.30" stroke="#666" stroke-width="0.8" />
<text transform="translate(412.90,632.49) rotate(0.1)" font-size="6.4" text-anchor="middle" fill="#222" font-weight="normal" stroke="#222" stroke-width="0.08" >Pax5+/-</text>
<text transform="translate(412.90,640.59) rotate(0.1)" font-size="6.4" text-anchor="middle" fill="#222" font-weight="normal" stroke="#222" stroke-width="0.08" >(n=27)</text>
<text transform="translate(468.90,632.49) rotate(0.1)" font-size="6.4" text-anchor="middle" fill="#222" font-weight="normal" stroke="#222" stroke-width="0.08" >WT</text>
<text transform="translate(468.90,640.59) rotate(0.1)" font-size="6.4" text-anchor="middle" fill="#222" font-weight="normal" stroke="#222" stroke-width="0.08" >(n=6)</text>
<rect x="0.6" y="0.6" width="518.8" height="647.8" fill="none" stroke="#000" stroke-width="1.25"/>
</svg>
</body></html>
